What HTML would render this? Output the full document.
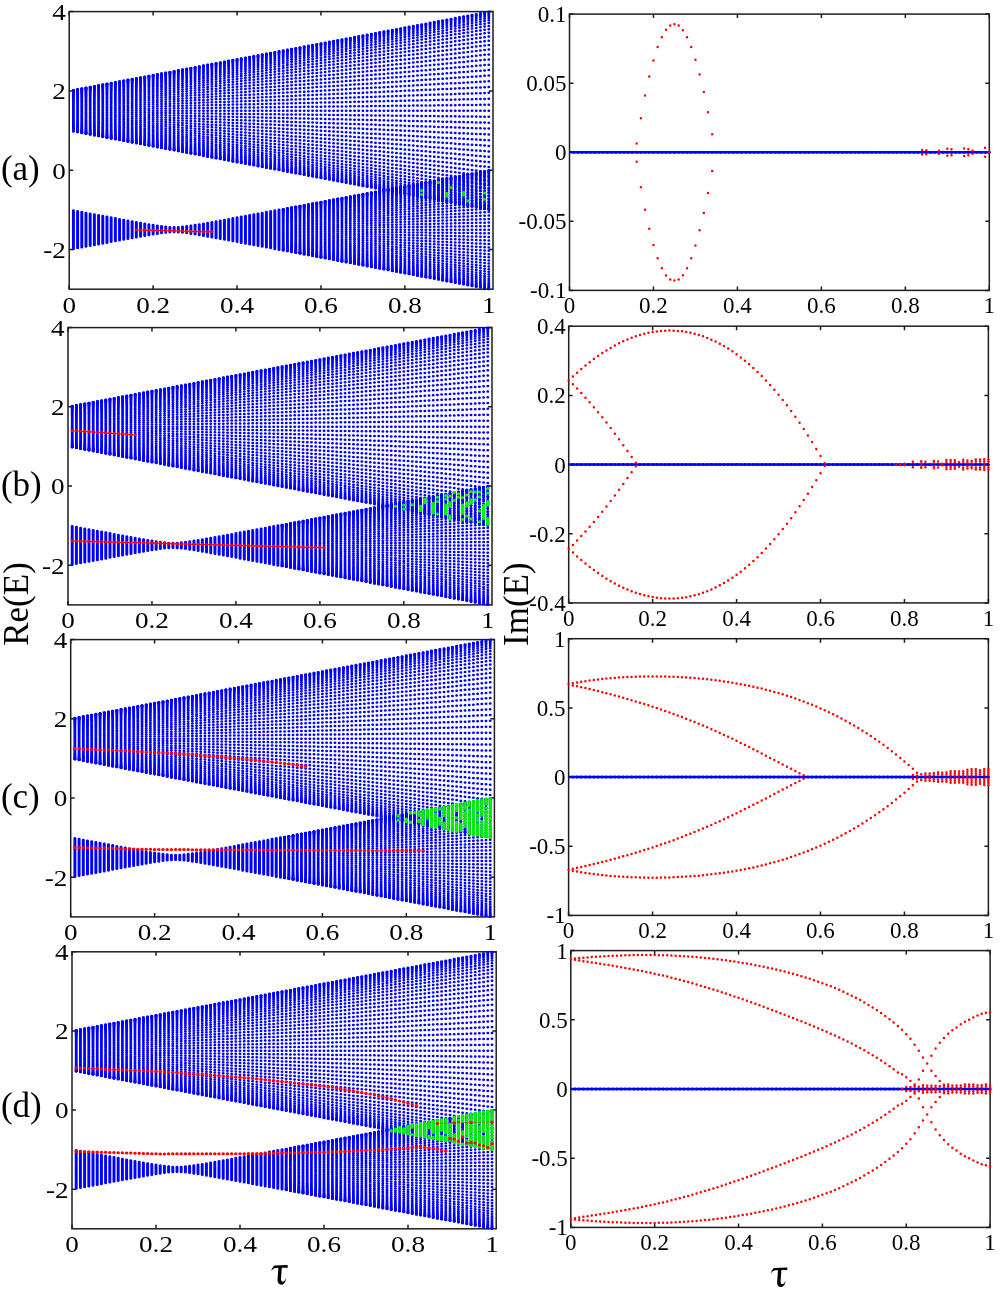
<!DOCTYPE html><html><head><meta charset="utf-8"><title>spectrum</title><style>html,body{margin:0;padding:0;background:#fff;overflow:hidden}svg{display:block;will-change:transform}text{font-family:"Liberation Serif",serif;fill:#000}</style></head><body>
<svg width="1004" height="1297" viewBox="0 0 1004 1297">
<rect x="69.2" y="11.6" width="423.8" height="277.6" fill="none" stroke="#1e1e1e" stroke-width="1.5"/><path d="M69.2 289.2v-4.0M69.2 11.6v4.0M153.12 289.2v-4.0M153.12 11.6v4.0M237.04 289.2v-4.0M237.04 11.6v4.0M320.96 289.2v-4.0M320.96 11.6v4.0M404.88 289.2v-4.0M404.88 11.6v4.0M488.8 289.2v-4.0M488.8 11.6v4.0M69.2 249.54h4.0M493 249.54h-4.0M69.2 170.23h4.0M493 170.23h-4.0M69.2 90.91h4.0M493 90.91h-4.0M69.2 11.6h4.0M493 11.6h-4.0" stroke="#1e1e1e" stroke-width="1.5" fill="none"/>
<rect x="68" y="327.6" width="424" height="277.3" fill="none" stroke="#1e1e1e" stroke-width="1.5"/><path d="M68 604.9v-4.0M68 327.6v4.0M151.96 604.9v-4.0M151.96 327.6v4.0M235.92 604.9v-4.0M235.92 327.6v4.0M319.88 604.9v-4.0M319.88 327.6v4.0M403.84 604.9v-4.0M403.84 327.6v4.0M487.8 604.9v-4.0M487.8 327.6v4.0M68 565.29h4.0M492 565.29h-4.0M68 486.06h4.0M492 486.06h-4.0M68 406.83h4.0M492 406.83h-4.0M68 327.6h4.0M492 327.6h-4.0" stroke="#1e1e1e" stroke-width="1.5" fill="none"/>
<rect x="70.7" y="639.6" width="423.7" height="277.3" fill="none" stroke="#1e1e1e" stroke-width="1.5"/><path d="M70.7 916.9v-4.0M70.7 639.6v4.0M154.6 916.9v-4.0M154.6 639.6v4.0M238.5 916.9v-4.0M238.5 639.6v4.0M322.4 916.9v-4.0M322.4 639.6v4.0M406.3 916.9v-4.0M406.3 639.6v4.0M490.2 916.9v-4.0M490.2 639.6v4.0M70.7 877.29h4.0M494.4 877.29h-4.0M70.7 798.06h4.0M494.4 798.06h-4.0M70.7 718.83h4.0M494.4 718.83h-4.0M70.7 639.6h4.0M494.4 639.6h-4.0" stroke="#1e1e1e" stroke-width="1.5" fill="none"/>
<rect x="72" y="951.8" width="424.2" height="277" fill="none" stroke="#1e1e1e" stroke-width="1.5"/><path d="M72 1228.8v-4.0M72 951.8v4.0M156 1228.8v-4.0M156 951.8v4.0M240 1228.8v-4.0M240 951.8v4.0M324 1228.8v-4.0M324 951.8v4.0M408 1228.8v-4.0M408 951.8v4.0M492 1228.8v-4.0M492 951.8v4.0M72 1189.23h4.0M496.2 1189.23h-4.0M72 1110.09h4.0M496.2 1110.09h-4.0M72 1030.94h4.0M496.2 1030.94h-4.0M72 951.8h4.0M496.2 951.8h-4.0" stroke="#1e1e1e" stroke-width="1.5" fill="none"/>
<rect x="569.5" y="14.1" width="419.8" height="276.3" fill="none" stroke="#1e1e1e" stroke-width="1.5"/><path d="M569.5 290.4v-4.0M569.5 14.1v4.0M653.46 290.4v-4.0M653.46 14.1v4.0M737.42 290.4v-4.0M737.42 14.1v4.0M821.38 290.4v-4.0M821.38 14.1v4.0M905.34 290.4v-4.0M905.34 14.1v4.0M989.3 290.4v-4.0M989.3 14.1v4.0M569.5 290.4h4.0M989.3 290.4h-4.0M569.5 221.32h4.0M989.3 221.32h-4.0M569.5 152.25h4.0M989.3 152.25h-4.0M569.5 83.17h4.0M989.3 83.17h-4.0M569.5 14.1h4.0M989.3 14.1h-4.0" stroke="#1e1e1e" stroke-width="1.5" fill="none"/>
<rect x="568.7" y="326.2" width="419.7" height="276.7" fill="none" stroke="#1e1e1e" stroke-width="1.5"/><path d="M568.7 602.9v-4.0M568.7 326.2v4.0M652.64 602.9v-4.0M652.64 326.2v4.0M736.58 602.9v-4.0M736.58 326.2v4.0M820.52 602.9v-4.0M820.52 326.2v4.0M904.46 602.9v-4.0M904.46 326.2v4.0M988.4 602.9v-4.0M988.4 326.2v4.0M568.7 602.9h4.0M988.4 602.9h-4.0M568.7 533.73h4.0M988.4 533.73h-4.0M568.7 464.55h4.0M988.4 464.55h-4.0M568.7 395.38h4.0M988.4 395.38h-4.0M568.7 326.2h4.0M988.4 326.2h-4.0" stroke="#1e1e1e" stroke-width="1.5" fill="none"/>
<rect x="568.6" y="638.7" width="419.8" height="276.7" fill="none" stroke="#1e1e1e" stroke-width="1.5"/><path d="M568.6 915.4v-4.0M568.6 638.7v4.0M652.56 915.4v-4.0M652.56 638.7v4.0M736.52 915.4v-4.0M736.52 638.7v4.0M820.48 915.4v-4.0M820.48 638.7v4.0M904.44 915.4v-4.0M904.44 638.7v4.0M988.4 915.4v-4.0M988.4 638.7v4.0M568.6 915.4h4.0M988.4 915.4h-4.0M568.6 846.23h4.0M988.4 846.23h-4.0M568.6 777.05h4.0M988.4 777.05h-4.0M568.6 707.88h4.0M988.4 707.88h-4.0M568.6 638.7h4.0M988.4 638.7h-4.0" stroke="#1e1e1e" stroke-width="1.5" fill="none"/>
<rect x="570.8" y="950.6" width="419.3" height="276.8" fill="none" stroke="#1e1e1e" stroke-width="1.5"/><path d="M570.8 1227.4v-4.0M570.8 950.6v4.0M654.66 1227.4v-4.0M654.66 950.6v4.0M738.52 1227.4v-4.0M738.52 950.6v4.0M822.38 1227.4v-4.0M822.38 950.6v4.0M906.24 1227.4v-4.0M906.24 950.6v4.0M990.1 1227.4v-4.0M990.1 950.6v4.0M570.8 1227.4h4.0M990.1 1227.4h-4.0M570.8 1158.2h4.0M990.1 1158.2h-4.0M570.8 1089h4.0M990.1 1089h-4.0M570.8 1019.8h4.0M990.1 1019.8h-4.0M570.8 950.6h4.0M990.1 950.6h-4.0" stroke="#1e1e1e" stroke-width="1.5" fill="none"/>
<g transform="translate(69.2 0) scale(1.18 1)" fill="none" stroke-linecap="round">
<g stroke="#0000ff" stroke-width="2.5">
<line x1="3.56" y1="90.16" x2="356.66" y2="11.54" stroke-dasharray="0 3.6430"/>
<line x1="3.56" y1="90.27" x2="356.66" y2="12.09" stroke-dasharray="0 3.6421"/>
<line x1="3.56" y1="90.46" x2="356.66" y2="12.99" stroke-dasharray="0 3.6405"/>
<line x1="3.56" y1="90.72" x2="356.66" y2="14.25" stroke-dasharray="0 3.6384"/>
<line x1="3.56" y1="91.05" x2="356.66" y2="15.86" stroke-dasharray="0 3.6357"/>
<line x1="3.56" y1="91.46" x2="356.66" y2="17.82" stroke-dasharray="0 3.6325"/>
<line x1="3.56" y1="91.94" x2="356.66" y2="20.12" stroke-dasharray="0 3.6288"/>
<line x1="3.56" y1="92.48" x2="356.66" y2="22.75" stroke-dasharray="0 3.6247"/>
<line x1="3.56" y1="93.10" x2="356.66" y2="25.69" stroke-dasharray="0 3.6202"/>
<line x1="3.56" y1="93.77" x2="356.66" y2="28.95" stroke-dasharray="0 3.6154"/>
<line x1="3.56" y1="94.51" x2="356.66" y2="32.51" stroke-dasharray="0 3.6104"/>
<line x1="3.56" y1="95.31" x2="356.66" y2="36.36" stroke-dasharray="0 3.6052"/>
<line x1="3.56" y1="96.16" x2="356.66" y2="40.47" stroke-dasharray="0 3.5999"/>
<line x1="3.56" y1="97.07" x2="356.66" y2="44.84" stroke-dasharray="0 3.5947"/>
<line x1="3.56" y1="98.03" x2="356.66" y2="49.45" stroke-dasharray="0 3.5895"/>
<line x1="3.56" y1="99.03" x2="356.66" y2="54.29" stroke-dasharray="0 3.5844"/>
<line x1="3.56" y1="100.07" x2="356.66" y2="59.33" stroke-dasharray="0 3.5796"/>
<line x1="3.56" y1="101.16" x2="356.66" y2="64.56" stroke-dasharray="0 3.5750"/>
<line x1="3.56" y1="102.28" x2="356.66" y2="69.96" stroke-dasharray="0 3.5708"/>
<line x1="3.56" y1="103.43" x2="356.66" y2="75.50" stroke-dasharray="0 3.5671"/>
<line x1="3.56" y1="104.61" x2="356.66" y2="81.18" stroke-dasharray="0 3.5638"/>
<line x1="3.56" y1="105.81" x2="356.66" y2="86.96" stroke-dasharray="0 3.5610"/>
<line x1="3.56" y1="107.03" x2="356.66" y2="92.83" stroke-dasharray="0 3.5588"/>
<line x1="3.56" y1="108.26" x2="356.66" y2="98.76" stroke-dasharray="0 3.5573"/>
<line x1="3.56" y1="109.50" x2="356.66" y2="104.74" stroke-dasharray="0 3.5563"/>
<line x1="3.56" y1="110.74" x2="356.66" y2="110.74" stroke-dasharray="0 3.5560"/>
<line x1="3.56" y1="111.99" x2="356.66" y2="116.74" stroke-dasharray="0 3.5563"/>
<line x1="3.56" y1="113.23" x2="356.66" y2="122.72" stroke-dasharray="0 3.5573"/>
<line x1="3.56" y1="114.46" x2="356.66" y2="128.66" stroke-dasharray="0 3.5588"/>
<line x1="3.56" y1="115.68" x2="356.66" y2="134.53" stroke-dasharray="0 3.5610"/>
<line x1="3.56" y1="116.88" x2="356.66" y2="140.31" stroke-dasharray="0 3.5638"/>
<line x1="3.56" y1="118.06" x2="356.66" y2="145.98" stroke-dasharray="0 3.5671"/>
<line x1="3.56" y1="119.21" x2="356.66" y2="151.53" stroke-dasharray="0 3.5708"/>
<line x1="3.56" y1="120.33" x2="356.66" y2="156.93" stroke-dasharray="0 3.5750"/>
<line x1="3.56" y1="121.41" x2="356.66" y2="162.16" stroke-dasharray="0 3.5796"/>
<line x1="3.56" y1="122.46" x2="356.66" y2="167.20" stroke-dasharray="0 3.5844"/>
<line x1="3.56" y1="123.46" x2="356.66" y2="172.03" stroke-dasharray="0 3.5895"/>
<line x1="3.56" y1="124.42" x2="356.66" y2="176.64" stroke-dasharray="0 3.5947"/>
<line x1="3.56" y1="125.32" x2="356.66" y2="181.02" stroke-dasharray="0 3.5999"/>
<line x1="3.56" y1="126.18" x2="356.66" y2="185.13" stroke-dasharray="0 3.6052"/>
<line x1="3.56" y1="126.98" x2="356.66" y2="188.97" stroke-dasharray="0 3.6104"/>
<line x1="3.56" y1="127.71" x2="356.66" y2="192.53" stroke-dasharray="0 3.6154"/>
<line x1="3.56" y1="128.39" x2="356.66" y2="195.79" stroke-dasharray="0 3.6202"/>
<line x1="3.56" y1="129.00" x2="356.66" y2="198.74" stroke-dasharray="0 3.6247"/>
<line x1="3.56" y1="129.55" x2="356.66" y2="201.37" stroke-dasharray="0 3.6288"/>
<line x1="3.56" y1="130.02" x2="356.66" y2="203.67" stroke-dasharray="0 3.6325"/>
<line x1="3.56" y1="130.43" x2="356.66" y2="205.62" stroke-dasharray="0 3.6357"/>
<line x1="3.56" y1="130.77" x2="356.66" y2="207.24" stroke-dasharray="0 3.6384"/>
<line x1="3.56" y1="131.03" x2="356.66" y2="208.50" stroke-dasharray="0 3.6405"/>
<line x1="3.56" y1="131.21" x2="356.66" y2="209.40" stroke-dasharray="0 3.6421"/>
<line x1="3.56" y1="131.33" x2="356.66" y2="209.94" stroke-dasharray="0 3.6430"/>
<line x1="181.35" y1="250.30" x2="356.66" y2="289.33" stroke-dasharray="0 3.6430"/>
<line x1="181.35" y1="250.19" x2="356.66" y2="289.00" stroke-dasharray="0 3.6421"/>
<line x1="181.35" y1="250.00" x2="356.66" y2="288.46" stroke-dasharray="0 3.6405"/>
<line x1="181.35" y1="249.74" x2="356.66" y2="287.70" stroke-dasharray="0 3.6384"/>
<line x1="181.35" y1="249.40" x2="356.66" y2="286.73" stroke-dasharray="0 3.6357"/>
<line x1="181.35" y1="249.00" x2="356.66" y2="285.56" stroke-dasharray="0 3.6325"/>
<line x1="181.35" y1="248.52" x2="356.66" y2="284.18" stroke-dasharray="0 3.6288"/>
<line x1="181.35" y1="247.97" x2="356.66" y2="282.60" stroke-dasharray="0 3.6247"/>
<line x1="181.35" y1="247.36" x2="356.66" y2="280.82" stroke-dasharray="0 3.6202"/>
<line x1="181.35" y1="246.69" x2="356.66" y2="278.87" stroke-dasharray="0 3.6154"/>
<line x1="181.35" y1="245.95" x2="356.66" y2="276.73" stroke-dasharray="0 3.6104"/>
<line x1="181.35" y1="245.15" x2="356.66" y2="274.42" stroke-dasharray="0 3.6052"/>
<line x1="181.35" y1="244.30" x2="356.66" y2="271.95" stroke-dasharray="0 3.5999"/>
<line x1="181.35" y1="243.39" x2="356.66" y2="269.32" stroke-dasharray="0 3.5947"/>
<line x1="181.35" y1="242.43" x2="356.66" y2="266.55" stroke-dasharray="0 3.5895"/>
<line x1="181.35" y1="241.43" x2="356.66" y2="263.64" stroke-dasharray="0 3.5844"/>
<line x1="181.35" y1="240.38" x2="356.66" y2="260.61" stroke-dasharray="0 3.5796"/>
<line x1="181.35" y1="239.30" x2="356.66" y2="257.47" stroke-dasharray="0 3.5750"/>
<line x1="181.35" y1="238.18" x2="356.66" y2="254.23" stroke-dasharray="0 3.5708"/>
<line x1="181.35" y1="237.03" x2="356.66" y2="250.89" stroke-dasharray="0 3.5671"/>
<line x1="181.35" y1="235.85" x2="356.66" y2="247.48" stroke-dasharray="0 3.5638"/>
<line x1="181.35" y1="234.65" x2="356.66" y2="244.01" stroke-dasharray="0 3.5610"/>
<line x1="181.35" y1="233.43" x2="356.66" y2="240.48" stroke-dasharray="0 3.5588"/>
<line x1="181.35" y1="232.20" x2="356.66" y2="236.91" stroke-dasharray="0 3.5573"/>
<line x1="181.35" y1="230.96" x2="356.66" y2="233.32" stroke-dasharray="0 3.5563"/>
<line x1="181.35" y1="229.71" x2="356.66" y2="229.71" stroke-dasharray="0 3.5560"/>
<line x1="181.35" y1="228.47" x2="356.66" y2="226.11" stroke-dasharray="0 3.5563"/>
<line x1="181.35" y1="227.23" x2="356.66" y2="222.52" stroke-dasharray="0 3.5573"/>
<line x1="181.35" y1="226.00" x2="356.66" y2="218.95" stroke-dasharray="0 3.5588"/>
<line x1="181.35" y1="224.78" x2="356.66" y2="215.42" stroke-dasharray="0 3.5610"/>
<line x1="181.35" y1="223.58" x2="356.66" y2="211.95" stroke-dasharray="0 3.5638"/>
<line x1="181.35" y1="222.40" x2="356.66" y2="208.54" stroke-dasharray="0 3.5671"/>
<line x1="181.35" y1="221.25" x2="356.66" y2="205.20" stroke-dasharray="0 3.5708"/>
<line x1="181.35" y1="220.13" x2="356.66" y2="201.96" stroke-dasharray="0 3.5750"/>
<line x1="181.35" y1="219.05" x2="356.66" y2="198.82" stroke-dasharray="0 3.5796"/>
<line x1="181.35" y1="218.00" x2="356.66" y2="195.79" stroke-dasharray="0 3.5844"/>
<line x1="181.35" y1="217.00" x2="356.66" y2="192.88" stroke-dasharray="0 3.5895"/>
<line x1="181.35" y1="216.04" x2="356.66" y2="190.11" stroke-dasharray="0 3.5947"/>
<line x1="181.35" y1="215.13" x2="356.66" y2="187.48" stroke-dasharray="0 3.5999"/>
<line x1="181.35" y1="214.28" x2="356.66" y2="185.01" stroke-dasharray="0 3.6052"/>
<line x1="181.35" y1="213.48" x2="356.66" y2="182.70" stroke-dasharray="0 3.6104"/>
<line x1="181.35" y1="212.74" x2="356.66" y2="180.56" stroke-dasharray="0 3.6154"/>
<line x1="181.35" y1="212.07" x2="356.66" y2="178.60" stroke-dasharray="0 3.6202"/>
<line x1="181.35" y1="211.45" x2="356.66" y2="176.83" stroke-dasharray="0 3.6247"/>
<line x1="181.35" y1="210.91" x2="356.66" y2="175.25" stroke-dasharray="0 3.6288"/>
<line x1="181.35" y1="210.43" x2="356.66" y2="173.87" stroke-dasharray="0 3.6325"/>
<line x1="181.35" y1="210.03" x2="356.66" y2="172.69" stroke-dasharray="0 3.6357"/>
<line x1="181.35" y1="209.69" x2="356.66" y2="171.73" stroke-dasharray="0 3.6384"/>
<line x1="181.35" y1="209.43" x2="356.66" y2="170.97" stroke-dasharray="0 3.6405"/>
<line x1="181.35" y1="209.24" x2="356.66" y2="170.43" stroke-dasharray="0 3.6421"/>
<line x1="181.35" y1="209.13" x2="356.66" y2="170.10" stroke-dasharray="0 3.6430"/>
<path d="M3.56 210.53V248.90M7.11 211.32V248.11M10.67 212.10V247.32M14.22 212.89V246.54M17.78 213.67V245.75M21.34 214.46V244.97M24.89 215.24V244.19M28.45 216.02V243.41M32.00 216.80V242.63M35.56 217.58V241.85M39.12 218.36V241.07M42.67 219.13V240.30M46.23 219.90V239.52M49.78 220.67V238.76M53.34 221.43V237.99M56.90 222.19V237.24M60.45 222.94V236.49M64.01 223.67V235.75M67.56 224.39V235.03M71.12 225.09V234.34M74.68 225.75V233.68M78.23 226.35V233.08M81.79 226.85V232.57M85.34 227.21V232.22M88.90 227.33V232.09M92.46 227.21V232.22M96.01 226.85V232.57M99.57 226.35V233.08M103.12 225.75V233.68M106.68 225.09V234.34M110.23 224.39V235.03M113.79 223.67V235.75M117.35 222.94V236.49M120.90 222.19V237.24M124.46 221.43V237.99M128.01 220.67V238.76M131.57 219.90V239.52M135.13 219.13V240.30M138.68 218.36V241.07M142.24 217.58V241.85M145.79 216.80V242.63M149.35 216.02V243.41M152.91 215.24V244.19M156.46 214.46V244.97M160.02 213.67V245.75M163.57 212.89V246.54M167.13 212.10V247.32M170.69 211.32V248.11M174.24 210.53V248.90M177.80 209.74V249.69"/>
</g>
<path stroke="#00f000" stroke-width="3.0" d="M298.70 190.40h0M298.70 194.40h0M312.92 182.40h0M320.04 193.40h0M320.04 196.20h0M323.59 187.40h0M334.26 192.40h0M334.26 194.90h0M337.82 200.80h0M352.04 192.90h0M352.04 199.30h0"/>
<path stroke="#ff0000" stroke-width="1.0" d="M56.90 230.00L60.45 230.11L64.01 230.21L67.56 230.31L71.12 230.42L74.68 230.52L78.23 230.62L81.79 230.73L85.34 230.83L88.90 230.94L92.46 231.04L96.01 231.14L99.57 231.25L103.12 231.35L106.68 231.45L110.23 231.56L113.79 231.66L117.35 231.76L120.90 231.87"/>
<path stroke="#ff0000" stroke-width="2.8" d="M56.90 230.00h0M60.45 230.11h0M64.01 230.21h0M67.56 230.31h0M71.12 230.42h0M74.68 230.52h0M78.23 230.62h0M81.79 230.73h0M85.34 230.83h0M88.90 230.94h0M92.46 231.04h0M96.01 231.14h0M99.57 231.25h0M103.12 231.35h0M106.68 231.45h0M110.23 231.56h0M113.79 231.66h0M117.35 231.76h0M120.90 231.87h0"/>
</g>
<g transform="translate(68 0) scale(1.18 1)" fill="none" stroke-linecap="round">
<g stroke="#0000ff" stroke-width="2.5">
<line x1="3.56" y1="406.07" x2="356.83" y2="327.54" stroke-dasharray="0 3.6445"/>
<line x1="3.56" y1="406.19" x2="356.83" y2="328.09" stroke-dasharray="0 3.6435"/>
<line x1="3.56" y1="406.37" x2="356.83" y2="328.99" stroke-dasharray="0 3.6420"/>
<line x1="3.56" y1="406.63" x2="356.83" y2="330.25" stroke-dasharray="0 3.6399"/>
<line x1="3.56" y1="406.97" x2="356.83" y2="331.86" stroke-dasharray="0 3.6372"/>
<line x1="3.56" y1="407.37" x2="356.83" y2="333.81" stroke-dasharray="0 3.6340"/>
<line x1="3.56" y1="407.85" x2="356.83" y2="336.11" stroke-dasharray="0 3.6303"/>
<line x1="3.56" y1="408.40" x2="356.83" y2="338.73" stroke-dasharray="0 3.6262"/>
<line x1="3.56" y1="409.01" x2="356.83" y2="341.68" stroke-dasharray="0 3.6217"/>
<line x1="3.56" y1="409.68" x2="356.83" y2="344.94" stroke-dasharray="0 3.6169"/>
<line x1="3.56" y1="410.42" x2="356.83" y2="348.49" stroke-dasharray="0 3.6119"/>
<line x1="3.56" y1="411.22" x2="356.83" y2="352.33" stroke-dasharray="0 3.6067"/>
<line x1="3.56" y1="412.07" x2="356.83" y2="356.44" stroke-dasharray="0 3.6015"/>
<line x1="3.56" y1="412.98" x2="356.83" y2="360.81" stroke-dasharray="0 3.5962"/>
<line x1="3.56" y1="413.93" x2="356.83" y2="365.41" stroke-dasharray="0 3.5910"/>
<line x1="3.56" y1="414.93" x2="356.83" y2="370.24" stroke-dasharray="0 3.5860"/>
<line x1="3.56" y1="415.98" x2="356.83" y2="375.28" stroke-dasharray="0 3.5812"/>
<line x1="3.56" y1="417.06" x2="356.83" y2="380.50" stroke-dasharray="0 3.5766"/>
<line x1="3.56" y1="418.18" x2="356.83" y2="385.89" stroke-dasharray="0 3.5725"/>
<line x1="3.56" y1="419.33" x2="356.83" y2="391.43" stroke-dasharray="0 3.5687"/>
<line x1="3.56" y1="420.51" x2="356.83" y2="397.10" stroke-dasharray="0 3.5654"/>
<line x1="3.56" y1="421.71" x2="356.83" y2="402.88" stroke-dasharray="0 3.5627"/>
<line x1="3.56" y1="422.92" x2="356.83" y2="408.74" stroke-dasharray="0 3.5605"/>
<line x1="3.56" y1="424.15" x2="356.83" y2="414.67" stroke-dasharray="0 3.5589"/>
<line x1="3.56" y1="425.39" x2="356.83" y2="420.64" stroke-dasharray="0 3.5580"/>
<line x1="3.56" y1="426.64" x2="356.83" y2="426.64" stroke-dasharray="0 3.5576"/>
<line x1="3.56" y1="427.88" x2="356.83" y2="432.63" stroke-dasharray="0 3.5580"/>
<line x1="3.56" y1="429.12" x2="356.83" y2="438.60" stroke-dasharray="0 3.5589"/>
<line x1="3.56" y1="430.35" x2="356.83" y2="444.53" stroke-dasharray="0 3.5605"/>
<line x1="3.56" y1="431.57" x2="356.83" y2="450.39" stroke-dasharray="0 3.5627"/>
<line x1="3.56" y1="432.76" x2="356.83" y2="456.17" stroke-dasharray="0 3.5654"/>
<line x1="3.56" y1="433.94" x2="356.83" y2="461.84" stroke-dasharray="0 3.5687"/>
<line x1="3.56" y1="435.09" x2="356.83" y2="467.38" stroke-dasharray="0 3.5725"/>
<line x1="3.56" y1="436.21" x2="356.83" y2="472.77" stroke-dasharray="0 3.5766"/>
<line x1="3.56" y1="437.29" x2="356.83" y2="477.99" stroke-dasharray="0 3.5812"/>
<line x1="3.56" y1="438.34" x2="356.83" y2="483.03" stroke-dasharray="0 3.5860"/>
<line x1="3.56" y1="439.34" x2="356.83" y2="487.86" stroke-dasharray="0 3.5910"/>
<line x1="3.56" y1="440.30" x2="356.83" y2="492.47" stroke-dasharray="0 3.5962"/>
<line x1="3.56" y1="441.20" x2="356.83" y2="496.83" stroke-dasharray="0 3.6015"/>
<line x1="3.56" y1="442.05" x2="356.83" y2="500.94" stroke-dasharray="0 3.6067"/>
<line x1="3.56" y1="442.85" x2="356.83" y2="504.78" stroke-dasharray="0 3.6119"/>
<line x1="3.56" y1="443.59" x2="356.83" y2="508.34" stroke-dasharray="0 3.6169"/>
<line x1="3.56" y1="444.26" x2="356.83" y2="511.59" stroke-dasharray="0 3.6217"/>
<line x1="3.56" y1="444.88" x2="356.83" y2="514.54" stroke-dasharray="0 3.6262"/>
<line x1="3.56" y1="445.42" x2="356.83" y2="517.16" stroke-dasharray="0 3.6303"/>
<line x1="3.56" y1="445.90" x2="356.83" y2="519.46" stroke-dasharray="0 3.6340"/>
<line x1="3.56" y1="446.30" x2="356.83" y2="521.41" stroke-dasharray="0 3.6372"/>
<line x1="3.56" y1="446.64" x2="356.83" y2="523.02" stroke-dasharray="0 3.6399"/>
<line x1="3.56" y1="446.90" x2="356.83" y2="524.28" stroke-dasharray="0 3.6420"/>
<line x1="3.56" y1="447.08" x2="356.83" y2="525.19" stroke-dasharray="0 3.6435"/>
<line x1="3.56" y1="447.20" x2="356.83" y2="525.73" stroke-dasharray="0 3.6445"/>
<line x1="181.44" y1="566.04" x2="356.83" y2="605.03" stroke-dasharray="0 3.6445"/>
<line x1="181.44" y1="565.93" x2="356.83" y2="604.70" stroke-dasharray="0 3.6435"/>
<line x1="181.44" y1="565.74" x2="356.83" y2="604.16" stroke-dasharray="0 3.6420"/>
<line x1="181.44" y1="565.48" x2="356.83" y2="603.40" stroke-dasharray="0 3.6399"/>
<line x1="181.44" y1="565.15" x2="356.83" y2="602.44" stroke-dasharray="0 3.6372"/>
<line x1="181.44" y1="564.74" x2="356.83" y2="601.26" stroke-dasharray="0 3.6340"/>
<line x1="181.44" y1="564.26" x2="356.83" y2="599.88" stroke-dasharray="0 3.6303"/>
<line x1="181.44" y1="563.72" x2="356.83" y2="598.30" stroke-dasharray="0 3.6262"/>
<line x1="181.44" y1="563.11" x2="356.83" y2="596.53" stroke-dasharray="0 3.6217"/>
<line x1="181.44" y1="562.43" x2="356.83" y2="594.58" stroke-dasharray="0 3.6169"/>
<line x1="181.44" y1="561.69" x2="356.83" y2="592.44" stroke-dasharray="0 3.6119"/>
<line x1="181.44" y1="560.90" x2="356.83" y2="590.13" stroke-dasharray="0 3.6067"/>
<line x1="181.44" y1="560.04" x2="356.83" y2="587.66" stroke-dasharray="0 3.6015"/>
<line x1="181.44" y1="559.14" x2="356.83" y2="585.04" stroke-dasharray="0 3.5962"/>
<line x1="181.44" y1="558.18" x2="356.83" y2="582.27" stroke-dasharray="0 3.5910"/>
<line x1="181.44" y1="557.18" x2="356.83" y2="579.37" stroke-dasharray="0 3.5860"/>
<line x1="181.44" y1="556.14" x2="356.83" y2="576.34" stroke-dasharray="0 3.5812"/>
<line x1="181.44" y1="555.05" x2="356.83" y2="573.20" stroke-dasharray="0 3.5766"/>
<line x1="181.44" y1="553.93" x2="356.83" y2="569.96" stroke-dasharray="0 3.5725"/>
<line x1="181.44" y1="552.78" x2="356.83" y2="566.63" stroke-dasharray="0 3.5687"/>
<line x1="181.44" y1="551.61" x2="356.83" y2="563.23" stroke-dasharray="0 3.5654"/>
<line x1="181.44" y1="550.41" x2="356.83" y2="559.76" stroke-dasharray="0 3.5627"/>
<line x1="181.44" y1="549.19" x2="356.83" y2="556.23" stroke-dasharray="0 3.5605"/>
<line x1="181.44" y1="547.96" x2="356.83" y2="552.67" stroke-dasharray="0 3.5589"/>
<line x1="181.44" y1="546.72" x2="356.83" y2="549.08" stroke-dasharray="0 3.5580"/>
<line x1="181.44" y1="545.48" x2="356.83" y2="545.48" stroke-dasharray="0 3.5576"/>
<line x1="181.44" y1="544.23" x2="356.83" y2="541.88" stroke-dasharray="0 3.5580"/>
<line x1="181.44" y1="543.00" x2="356.83" y2="538.29" stroke-dasharray="0 3.5589"/>
<line x1="181.44" y1="541.77" x2="356.83" y2="534.72" stroke-dasharray="0 3.5605"/>
<line x1="181.44" y1="540.55" x2="356.83" y2="531.20" stroke-dasharray="0 3.5627"/>
<line x1="181.44" y1="539.35" x2="356.83" y2="527.73" stroke-dasharray="0 3.5654"/>
<line x1="181.44" y1="538.17" x2="356.83" y2="524.32" stroke-dasharray="0 3.5687"/>
<line x1="181.44" y1="537.02" x2="356.83" y2="520.99" stroke-dasharray="0 3.5725"/>
<line x1="181.44" y1="535.91" x2="356.83" y2="517.75" stroke-dasharray="0 3.5766"/>
<line x1="181.44" y1="534.82" x2="356.83" y2="514.61" stroke-dasharray="0 3.5812"/>
<line x1="181.44" y1="533.78" x2="356.83" y2="511.59" stroke-dasharray="0 3.5860"/>
<line x1="181.44" y1="532.77" x2="356.83" y2="508.69" stroke-dasharray="0 3.5910"/>
<line x1="181.44" y1="531.82" x2="356.83" y2="505.92" stroke-dasharray="0 3.5962"/>
<line x1="181.44" y1="530.91" x2="356.83" y2="503.29" stroke-dasharray="0 3.6015"/>
<line x1="181.44" y1="530.06" x2="356.83" y2="500.82" stroke-dasharray="0 3.6067"/>
<line x1="181.44" y1="529.26" x2="356.83" y2="498.52" stroke-dasharray="0 3.6119"/>
<line x1="181.44" y1="528.53" x2="356.83" y2="496.38" stroke-dasharray="0 3.6169"/>
<line x1="181.44" y1="527.85" x2="356.83" y2="494.42" stroke-dasharray="0 3.6217"/>
<line x1="181.44" y1="527.24" x2="356.83" y2="492.65" stroke-dasharray="0 3.6262"/>
<line x1="181.44" y1="526.69" x2="356.83" y2="491.08" stroke-dasharray="0 3.6303"/>
<line x1="181.44" y1="526.22" x2="356.83" y2="489.70" stroke-dasharray="0 3.6340"/>
<line x1="181.44" y1="525.81" x2="356.83" y2="488.52" stroke-dasharray="0 3.6372"/>
<line x1="181.44" y1="525.48" x2="356.83" y2="487.55" stroke-dasharray="0 3.6399"/>
<line x1="181.44" y1="525.22" x2="356.83" y2="486.80" stroke-dasharray="0 3.6420"/>
<line x1="181.44" y1="525.03" x2="356.83" y2="486.25" stroke-dasharray="0 3.6435"/>
<line x1="181.44" y1="524.92" x2="356.83" y2="485.93" stroke-dasharray="0 3.6445"/>
<path d="M3.56 526.32V564.64M7.12 527.10V563.86M10.67 527.89V563.07M14.23 528.67V562.29M17.79 529.46V561.50M21.35 530.24V560.72M24.90 531.02V559.94M28.46 531.80V559.16M32.02 532.58V558.38M35.58 533.36V557.60M39.13 534.13V556.82M42.69 534.91V556.05M46.25 535.68V555.28M49.81 536.45V554.51M53.36 537.21V553.75M56.92 537.96V552.99M60.48 538.71V552.25M64.04 539.44V551.51M67.60 540.16V550.79M71.15 540.86V550.10M74.71 541.52V549.44M78.27 542.12V548.84M81.83 542.62V548.34M85.38 542.97V547.98M88.94 543.10V547.86M92.50 542.97V547.98M96.06 542.62V548.34M99.61 542.12V548.84M103.17 541.52V549.44M106.73 540.86V550.10M110.29 540.16V550.79M113.84 539.44V551.51M117.40 538.71V552.25M120.96 537.96V552.99M124.52 537.21V553.75M128.08 536.45V554.51M131.63 535.68V555.28M135.19 534.91V556.05M138.75 534.13V556.82M142.31 533.36V557.60M145.86 532.58V558.38M149.42 531.80V559.16M152.98 531.02V559.94M156.54 530.24V560.72M160.09 529.46V561.50M163.65 528.67V562.29M167.21 527.89V563.07M170.77 527.10V563.86M174.32 526.32V564.64M177.88 525.53V565.43"/>
</g>
<path stroke="#00f000" stroke-width="3.0" d="M277.50 506.30V506.30M284.61 505.10V505.10M284.61 509.00V509.00M291.73 504.80V504.80M298.84 506.30V510.50M302.40 499.10V502.70M309.52 503.30V512.90M313.07 497.30V497.30M313.07 501.50V501.50M313.07 514.10V514.10M320.19 495.50V495.50M320.19 499.10V499.10M320.19 505.10V514.10M323.75 496.10V496.10M323.75 502.70V506.30M323.75 515.90V518.90M327.30 492.60V492.60M327.30 500.30V500.30M330.86 493.70V493.70M330.86 497.30V497.30M334.42 497.60V497.60M334.42 505.10V513.50M334.42 519.50V519.50M337.98 494.90V494.90M337.98 502.70V506.30M337.98 515.90V515.90M341.53 491.40V491.40M341.53 499.70V503.30M341.53 518.90V518.90M345.09 492.00V492.00M345.09 499.70V499.70M348.65 492.00V492.00M348.65 496.70V496.70M348.65 511.10V511.10M348.65 521.80V521.80M352.21 505.10V518.30M355.76 488.40V488.40M355.76 493.10V493.10M355.76 501.50V505.10M355.76 518.30V524.20"/>
<path stroke="#ff0000" stroke-width="1.0" d="M3.56 430.65L7.12 430.93L10.67 431.20L14.23 431.48L17.79 431.76L21.35 432.04L24.90 432.32L28.46 432.60L32.02 432.88L35.58 433.16L39.13 433.44L42.69 433.72L46.25 433.99L49.81 434.27L53.36 434.55L56.92 434.83M3.56 541.01L7.12 541.12L10.67 541.23L14.23 541.34L17.79 541.46L21.35 541.57L24.90 541.68L28.46 541.79L32.02 541.90L35.58 542.01L39.13 542.13L42.69 542.24L46.25 542.35L49.81 542.46L53.36 542.57L56.92 542.69L60.48 542.80L64.04 542.91L67.60 543.02L71.15 543.13L74.71 543.25L78.27 543.36L81.83 543.47L85.38 543.58L88.94 543.69L92.50 543.80L96.06 543.92L99.61 544.03L103.17 544.14L106.73 544.25L110.29 544.36L113.84 544.47L117.40 544.59L120.96 544.70L124.52 544.81L128.08 544.92L131.63 545.03L135.19 545.14L138.75 545.25L142.31 545.36L145.86 545.47L149.42 545.58L152.98 545.69L156.54 545.80L160.09 545.92L163.65 546.03L167.21 546.14L170.77 546.25L174.32 546.36L177.88 546.47L181.44 546.58L185.00 546.69L188.56 546.80L192.11 546.91L195.67 547.02L199.23 547.13L202.79 547.25L206.34 547.36L209.90 547.47L213.46 547.58L217.02 547.69"/>
<path stroke="#ff0000" stroke-width="2.8" d="M3.56 430.65h0M7.12 430.93h0M10.67 431.20h0M14.23 431.48h0M17.79 431.76h0M21.35 432.04h0M24.90 432.32h0M28.46 432.60h0M32.02 432.88h0M35.58 433.16h0M39.13 433.44h0M42.69 433.72h0M46.25 433.99h0M49.81 434.27h0M53.36 434.55h0M56.92 434.83h0M3.56 541.01h0M7.12 541.12h0M10.67 541.23h0M14.23 541.34h0M17.79 541.46h0M21.35 541.57h0M24.90 541.68h0M28.46 541.79h0M32.02 541.90h0M35.58 542.01h0M39.13 542.13h0M42.69 542.24h0M46.25 542.35h0M49.81 542.46h0M53.36 542.57h0M56.92 542.69h0M60.48 542.80h0M64.04 542.91h0M67.60 543.02h0M71.15 543.13h0M74.71 543.25h0M78.27 543.36h0M81.83 543.47h0M85.38 543.58h0M88.94 543.69h0M92.50 543.80h0M96.06 543.92h0M99.61 544.03h0M103.17 544.14h0M106.73 544.25h0M110.29 544.36h0M113.84 544.47h0M117.40 544.59h0M120.96 544.70h0M124.52 544.81h0M128.08 544.92h0M131.63 545.03h0M135.19 545.14h0M138.75 545.25h0M142.31 545.36h0M145.86 545.47h0M149.42 545.58h0M152.98 545.69h0M156.54 545.80h0M160.09 545.92h0M163.65 546.03h0M167.21 546.14h0M170.77 546.25h0M174.32 546.36h0M177.88 546.47h0M181.44 546.58h0M185.00 546.69h0M188.56 546.80h0M192.11 546.91h0M195.67 547.02h0M199.23 547.13h0M202.79 547.25h0M206.34 547.36h0M209.90 547.47h0M213.46 547.58h0M217.02 547.69h0"/>
</g>
<g transform="translate(70.7 0) scale(1.18 1)" fill="none" stroke-linecap="round">
<g stroke="#0000ff" stroke-width="2.5">
<line x1="3.56" y1="718.07" x2="356.58" y2="639.54" stroke-dasharray="0 3.6420"/>
<line x1="3.56" y1="718.19" x2="356.58" y2="640.09" stroke-dasharray="0 3.6411"/>
<line x1="3.56" y1="718.37" x2="356.58" y2="640.99" stroke-dasharray="0 3.6395"/>
<line x1="3.56" y1="718.63" x2="356.58" y2="642.25" stroke-dasharray="0 3.6374"/>
<line x1="3.56" y1="718.97" x2="356.58" y2="643.86" stroke-dasharray="0 3.6347"/>
<line x1="3.56" y1="719.37" x2="356.58" y2="645.81" stroke-dasharray="0 3.6315"/>
<line x1="3.56" y1="719.85" x2="356.58" y2="648.11" stroke-dasharray="0 3.6278"/>
<line x1="3.56" y1="720.40" x2="356.58" y2="650.73" stroke-dasharray="0 3.6237"/>
<line x1="3.56" y1="721.01" x2="356.58" y2="653.68" stroke-dasharray="0 3.6192"/>
<line x1="3.56" y1="721.68" x2="356.58" y2="656.94" stroke-dasharray="0 3.6144"/>
<line x1="3.56" y1="722.42" x2="356.58" y2="660.49" stroke-dasharray="0 3.6094"/>
<line x1="3.56" y1="723.22" x2="356.58" y2="664.33" stroke-dasharray="0 3.6042"/>
<line x1="3.56" y1="724.07" x2="356.58" y2="668.44" stroke-dasharray="0 3.5990"/>
<line x1="3.56" y1="724.98" x2="356.58" y2="672.81" stroke-dasharray="0 3.5937"/>
<line x1="3.56" y1="725.93" x2="356.58" y2="677.41" stroke-dasharray="0 3.5885"/>
<line x1="3.56" y1="726.93" x2="356.58" y2="682.24" stroke-dasharray="0 3.5835"/>
<line x1="3.56" y1="727.98" x2="356.58" y2="687.28" stroke-dasharray="0 3.5787"/>
<line x1="3.56" y1="729.06" x2="356.58" y2="692.50" stroke-dasharray="0 3.5741"/>
<line x1="3.56" y1="730.18" x2="356.58" y2="697.89" stroke-dasharray="0 3.5700"/>
<line x1="3.56" y1="731.33" x2="356.58" y2="703.43" stroke-dasharray="0 3.5662"/>
<line x1="3.56" y1="732.51" x2="356.58" y2="709.10" stroke-dasharray="0 3.5629"/>
<line x1="3.56" y1="733.71" x2="356.58" y2="714.88" stroke-dasharray="0 3.5602"/>
<line x1="3.56" y1="734.92" x2="356.58" y2="720.74" stroke-dasharray="0 3.5580"/>
<line x1="3.56" y1="736.15" x2="356.58" y2="726.67" stroke-dasharray="0 3.5564"/>
<line x1="3.56" y1="737.39" x2="356.58" y2="732.64" stroke-dasharray="0 3.5554"/>
<line x1="3.56" y1="738.64" x2="356.58" y2="738.64" stroke-dasharray="0 3.5551"/>
<line x1="3.56" y1="739.88" x2="356.58" y2="744.63" stroke-dasharray="0 3.5554"/>
<line x1="3.56" y1="741.12" x2="356.58" y2="750.60" stroke-dasharray="0 3.5564"/>
<line x1="3.56" y1="742.35" x2="356.58" y2="756.53" stroke-dasharray="0 3.5580"/>
<line x1="3.56" y1="743.57" x2="356.58" y2="762.39" stroke-dasharray="0 3.5602"/>
<line x1="3.56" y1="744.76" x2="356.58" y2="768.17" stroke-dasharray="0 3.5629"/>
<line x1="3.56" y1="745.94" x2="356.58" y2="773.84" stroke-dasharray="0 3.5662"/>
<line x1="3.56" y1="747.09" x2="356.58" y2="779.38" stroke-dasharray="0 3.5700"/>
<line x1="3.56" y1="748.21" x2="356.58" y2="784.77" stroke-dasharray="0 3.5741"/>
<line x1="3.56" y1="749.29" x2="356.58" y2="789.99" stroke-dasharray="0 3.5787"/>
<line x1="3.56" y1="750.34" x2="356.58" y2="795.03" stroke-dasharray="0 3.5835"/>
<line x1="3.56" y1="751.34" x2="356.58" y2="799.86" stroke-dasharray="0 3.5885"/>
<line x1="3.56" y1="752.30" x2="356.58" y2="804.47" stroke-dasharray="0 3.5937"/>
<line x1="3.56" y1="753.20" x2="356.58" y2="808.83" stroke-dasharray="0 3.5990"/>
<line x1="3.56" y1="754.05" x2="356.58" y2="812.94" stroke-dasharray="0 3.6042"/>
<line x1="3.56" y1="754.85" x2="356.58" y2="816.78" stroke-dasharray="0 3.6094"/>
<line x1="3.56" y1="755.59" x2="356.58" y2="820.34" stroke-dasharray="0 3.6144"/>
<line x1="3.56" y1="756.26" x2="356.58" y2="823.59" stroke-dasharray="0 3.6192"/>
<line x1="3.56" y1="756.88" x2="356.58" y2="826.54" stroke-dasharray="0 3.6237"/>
<line x1="3.56" y1="757.42" x2="356.58" y2="829.16" stroke-dasharray="0 3.6278"/>
<line x1="3.56" y1="757.90" x2="356.58" y2="831.46" stroke-dasharray="0 3.6315"/>
<line x1="3.56" y1="758.30" x2="356.58" y2="833.41" stroke-dasharray="0 3.6347"/>
<line x1="3.56" y1="758.64" x2="356.58" y2="835.02" stroke-dasharray="0 3.6374"/>
<line x1="3.56" y1="758.90" x2="356.58" y2="836.28" stroke-dasharray="0 3.6395"/>
<line x1="3.56" y1="759.08" x2="356.58" y2="837.19" stroke-dasharray="0 3.6411"/>
<line x1="3.56" y1="759.20" x2="356.58" y2="837.73" stroke-dasharray="0 3.6420"/>
<line x1="181.31" y1="878.04" x2="356.58" y2="917.03" stroke-dasharray="0 3.6420"/>
<line x1="181.31" y1="877.93" x2="356.58" y2="916.70" stroke-dasharray="0 3.6411"/>
<line x1="181.31" y1="877.74" x2="356.58" y2="916.16" stroke-dasharray="0 3.6395"/>
<line x1="181.31" y1="877.48" x2="356.58" y2="915.40" stroke-dasharray="0 3.6374"/>
<line x1="181.31" y1="877.15" x2="356.58" y2="914.44" stroke-dasharray="0 3.6347"/>
<line x1="181.31" y1="876.74" x2="356.58" y2="913.26" stroke-dasharray="0 3.6315"/>
<line x1="181.31" y1="876.26" x2="356.58" y2="911.88" stroke-dasharray="0 3.6278"/>
<line x1="181.31" y1="875.72" x2="356.58" y2="910.30" stroke-dasharray="0 3.6237"/>
<line x1="181.31" y1="875.11" x2="356.58" y2="908.53" stroke-dasharray="0 3.6192"/>
<line x1="181.31" y1="874.43" x2="356.58" y2="906.58" stroke-dasharray="0 3.6144"/>
<line x1="181.31" y1="873.69" x2="356.58" y2="904.44" stroke-dasharray="0 3.6094"/>
<line x1="181.31" y1="872.90" x2="356.58" y2="902.13" stroke-dasharray="0 3.6042"/>
<line x1="181.31" y1="872.04" x2="356.58" y2="899.66" stroke-dasharray="0 3.5990"/>
<line x1="181.31" y1="871.14" x2="356.58" y2="897.04" stroke-dasharray="0 3.5937"/>
<line x1="181.31" y1="870.18" x2="356.58" y2="894.27" stroke-dasharray="0 3.5885"/>
<line x1="181.31" y1="869.18" x2="356.58" y2="891.37" stroke-dasharray="0 3.5835"/>
<line x1="181.31" y1="868.14" x2="356.58" y2="888.34" stroke-dasharray="0 3.5787"/>
<line x1="181.31" y1="867.05" x2="356.58" y2="885.20" stroke-dasharray="0 3.5741"/>
<line x1="181.31" y1="865.93" x2="356.58" y2="881.96" stroke-dasharray="0 3.5700"/>
<line x1="181.31" y1="864.78" x2="356.58" y2="878.63" stroke-dasharray="0 3.5662"/>
<line x1="181.31" y1="863.61" x2="356.58" y2="875.23" stroke-dasharray="0 3.5629"/>
<line x1="181.31" y1="862.41" x2="356.58" y2="871.76" stroke-dasharray="0 3.5602"/>
<line x1="181.31" y1="861.19" x2="356.58" y2="868.23" stroke-dasharray="0 3.5580"/>
<line x1="181.31" y1="859.96" x2="356.58" y2="864.67" stroke-dasharray="0 3.5564"/>
<line x1="181.31" y1="858.72" x2="356.58" y2="861.08" stroke-dasharray="0 3.5554"/>
<line x1="181.31" y1="857.48" x2="356.58" y2="857.48" stroke-dasharray="0 3.5551"/>
<line x1="181.31" y1="856.23" x2="356.58" y2="853.88" stroke-dasharray="0 3.5554"/>
<line x1="181.31" y1="855.00" x2="356.58" y2="850.29" stroke-dasharray="0 3.5564"/>
<line x1="181.31" y1="853.77" x2="356.58" y2="846.72" stroke-dasharray="0 3.5580"/>
<line x1="181.31" y1="852.55" x2="356.58" y2="843.20" stroke-dasharray="0 3.5602"/>
<line x1="181.31" y1="851.35" x2="356.58" y2="839.73" stroke-dasharray="0 3.5629"/>
<line x1="181.31" y1="850.17" x2="356.58" y2="836.32" stroke-dasharray="0 3.5662"/>
<line x1="181.31" y1="849.02" x2="356.58" y2="832.99" stroke-dasharray="0 3.5700"/>
<line x1="181.31" y1="847.91" x2="356.58" y2="829.75" stroke-dasharray="0 3.5741"/>
<line x1="181.31" y1="846.82" x2="356.58" y2="826.61" stroke-dasharray="0 3.5787"/>
<line x1="181.31" y1="845.78" x2="356.58" y2="823.59" stroke-dasharray="0 3.5835"/>
<line x1="181.31" y1="844.77" x2="356.58" y2="820.69" stroke-dasharray="0 3.5885"/>
<line x1="181.31" y1="843.82" x2="356.58" y2="817.92" stroke-dasharray="0 3.5937"/>
<line x1="181.31" y1="842.91" x2="356.58" y2="815.29" stroke-dasharray="0 3.5990"/>
<line x1="181.31" y1="842.06" x2="356.58" y2="812.82" stroke-dasharray="0 3.6042"/>
<line x1="181.31" y1="841.26" x2="356.58" y2="810.52" stroke-dasharray="0 3.6094"/>
<line x1="181.31" y1="840.53" x2="356.58" y2="808.38" stroke-dasharray="0 3.6144"/>
<line x1="181.31" y1="839.85" x2="356.58" y2="806.42" stroke-dasharray="0 3.6192"/>
<line x1="181.31" y1="839.24" x2="356.58" y2="804.65" stroke-dasharray="0 3.6237"/>
<line x1="181.31" y1="838.69" x2="356.58" y2="803.08" stroke-dasharray="0 3.6278"/>
<line x1="181.31" y1="838.22" x2="356.58" y2="801.70" stroke-dasharray="0 3.6315"/>
<line x1="181.31" y1="837.81" x2="356.58" y2="800.52" stroke-dasharray="0 3.6347"/>
<line x1="181.31" y1="837.48" x2="356.58" y2="799.55" stroke-dasharray="0 3.6374"/>
<line x1="181.31" y1="837.22" x2="356.58" y2="798.80" stroke-dasharray="0 3.6395"/>
<line x1="181.31" y1="837.03" x2="356.58" y2="798.25" stroke-dasharray="0 3.6411"/>
<line x1="181.31" y1="836.92" x2="356.58" y2="797.93" stroke-dasharray="0 3.6420"/>
<path d="M3.56 838.32V876.64M7.11 839.10V875.86M10.67 839.89V875.07M14.22 840.67V874.29M17.78 841.46V873.50M21.33 842.24V872.72M24.89 843.02V871.94M28.44 843.80V871.16M32.00 844.58V870.38M35.55 845.36V869.60M39.11 846.13V868.82M42.66 846.91V868.05M46.22 847.68V867.28M49.77 848.45V866.51M53.33 849.21V865.75M56.88 849.96V864.99M60.44 850.71V864.25M63.99 851.44V863.51M67.55 852.16V862.79M71.10 852.86V862.10M74.66 853.52V861.44M78.21 854.12V860.84M81.77 854.62V860.34M85.32 854.97V859.98M88.88 855.10V859.86M92.43 854.97V859.98M95.99 854.62V860.34M99.54 854.12V860.84M103.10 853.52V861.44M106.65 852.86V862.10M110.21 852.16V862.79M113.76 851.44V863.51M117.32 850.71V864.25M120.87 849.96V864.99M124.43 849.21V865.75M127.98 848.45V866.51M131.54 847.68V867.28M135.09 846.91V868.05M138.65 846.13V868.82M142.21 845.36V869.60M145.76 844.58V870.38M149.32 843.80V871.16M152.87 843.02V871.94M156.43 842.24V872.72M159.98 841.46V873.50M163.54 840.67V874.29M167.09 839.89V875.07M170.65 839.10V875.86M174.20 838.32V876.64M177.76 837.53V877.43"/>
</g>
<path stroke="#00f000" stroke-width="3.0" d="M351.96 836.70h0M351.96 836.69h0M351.96 836.16h0M351.96 834.02h0M351.96 833.42h0M351.96 832.43h0M351.96 830.49h0M351.96 830.23h0M351.96 828.22h0M351.96 827.15h0M351.96 825.63h0M351.96 824.17h0M351.96 822.71h0M351.96 821.32h0M351.96 819.49h0M351.96 818.60h0M351.96 816.02h0M351.96 815.97h0M351.96 813.59h0M351.96 812.17h0M351.96 811.33h0M351.96 808.10h0M351.96 804.01h0M351.96 803.78h0M351.96 802.66h0M351.96 801.50h0M351.96 800.55h0M351.96 799.81h0M351.96 799.28h0M351.96 799.22h0M351.96 798.96h0M355.51 837.49h0M355.51 836.95h0M355.51 836.41h0M355.51 836.05h0M355.51 834.79h0M355.51 833.19h0M355.51 833.09h0M355.51 831.24h0M355.51 829.86h0M355.51 828.95h0M355.51 826.74h0M355.51 826.33h0M355.51 823.72h0M355.51 823.39h0M355.51 820.14h0M355.51 818.07h0M355.51 815.46h0M355.51 813.00h0M355.51 812.77h0M355.51 810.70h0M355.51 808.66h0M355.51 808.58h0M355.51 806.63h0M355.51 804.86h0M355.51 804.31h0M355.51 803.29h0M355.51 801.92h0M355.51 800.75h0M355.51 799.78h0M355.51 799.71h0M355.51 799.03h0M355.51 798.49h0M355.51 798.17h0M337.74 833.54h0M337.74 833.02h0M337.74 832.15h0M337.74 831.71h0M337.74 830.95h0M337.74 829.41h0M337.74 827.53h0M337.74 825.97h0M337.74 825.33h0M337.74 823.28h0M337.74 820.70h0M337.74 820.00h0M337.74 818.26h0M337.74 816.88h0M337.74 815.97h0M337.74 813.82h0M337.74 813.48h0M337.74 811.84h0M337.74 810.02h0M337.74 809.80h0M337.74 805.86h0M337.74 805.62h0M337.74 804.53h0M337.74 802.42h0M337.74 802.12h0M341.29 834.39h0M341.29 834.33h0M341.29 833.80h0M341.29 832.93h0M341.29 831.72h0M341.29 831.34h0M341.29 830.16h0M341.29 828.38h0M341.29 828.27h0M341.29 826.06h0M341.29 825.52h0M341.29 823.52h0M341.29 822.79h0M341.29 820.68h0M341.29 820.18h0M341.29 817.70h0M341.29 817.53h0M341.29 815.37h0M341.29 814.10h0M341.29 813.20h0M341.29 811.18h0M341.29 810.39h0M341.29 809.34h0M341.29 807.67h0M341.29 806.42h0M341.29 806.18h0M341.29 804.88h0M341.29 803.77h0M341.29 802.86h0M341.29 802.21h0M341.29 802.15h0M341.29 801.64h0M341.29 801.33h0M344.85 835.12h0M344.85 834.59h0M344.85 834.07h0M344.85 833.71h0M344.85 832.49h0M344.85 830.97h0M344.85 830.92h0M344.85 829.01h0M344.85 827.97h0M344.85 826.78h0M344.85 825.07h0M344.85 824.22h0M344.85 821.35h0M344.85 819.65h0M344.85 817.14h0M344.85 814.72h0M344.85 810.99h0M344.85 810.53h0M344.85 808.66h0M344.85 806.98h0M344.85 806.97h0M344.85 805.46h0M344.85 804.14h0M344.85 803.02h0M344.85 802.73h0M344.85 802.09h0M344.85 801.37h0M344.85 800.85h0M344.85 800.54h0M348.40 835.91h0M348.40 834.49h0M348.40 833.74h0M348.40 833.26h0M348.40 831.67h0M348.40 830.60h0M348.40 829.75h0M348.40 827.56h0M348.40 827.50h0M348.40 824.92h0M348.40 824.62h0M348.40 822.03h0M348.40 815.35h0M348.40 814.19h0M348.40 811.95h0M348.40 811.58h0M348.40 809.88h0M348.40 807.98h0M348.40 807.54h0M348.40 806.27h0M348.40 804.74h0M348.40 803.40h0M348.40 803.26h0M348.40 802.26h0M348.40 801.32h0M348.40 800.59h0M348.40 800.06h0M348.40 799.75h0M327.07 831.16h0M327.07 830.66h0M327.07 830.02h0M327.07 829.81h0M327.07 828.64h0M327.07 827.32h0M327.07 827.14h0M327.07 825.31h0M327.07 824.74h0M327.07 823.17h0M327.07 822.28h0M327.07 817.96h0M327.07 817.75h0M327.07 810.48h0M327.07 809.07h0M327.07 808.02h0M327.07 807.84h0M327.07 806.80h0M327.07 805.94h0M327.07 805.26h0M327.07 804.78h0M327.07 804.49h0M327.07 804.18h0M330.63 830.59h0M330.63 829.61h0M330.63 829.41h0M330.63 827.89h0M330.63 826.87h0M330.63 826.05h0M330.63 824.25h0M330.63 823.89h0M330.63 818.64h0M330.63 817.15h0M330.63 815.58h0M330.63 815.07h0M330.63 813.14h0M330.63 812.23h0M330.63 811.37h0M330.63 809.77h0M330.63 808.61h0M330.63 808.35h0M330.63 807.10h0M330.63 806.04h0M330.63 805.17h0M330.63 804.74h0M330.63 804.49h0M330.63 804.00h0M330.63 803.70h0M334.18 826.42h0M334.18 823.76h0M334.18 822.12h0M334.18 821.23h0M334.18 819.32h0M334.18 818.82h0M334.18 816.56h0M334.18 816.23h0M334.18 814.45h0M334.18 812.85h0M334.18 812.49h0M334.18 809.21h0M334.18 809.07h0M334.18 807.63h0M334.18 806.36h0M334.18 805.30h0M334.18 805.29h0M334.18 803.71h0M334.18 803.21h0M334.18 802.91h0M319.96 829.58h0M319.96 829.08h0M319.96 828.26h0M319.96 825.62h0M319.96 823.33h0M319.96 821.72h0M319.96 821.06h0M319.96 819.31h0M319.96 816.61h0M319.96 815.10h0M319.96 813.62h0M319.96 813.41h0M319.96 811.88h0M319.96 810.52h0M319.96 810.36h0M319.96 807.48h0M319.96 806.83h0M319.96 806.82h0M323.52 830.43h0M323.52 830.37h0M323.52 827.77h0M323.52 826.38h0M323.52 825.23h0M323.52 824.57h0M323.52 822.80h0M323.52 822.44h0M323.52 820.50h0M323.52 820.01h0M323.52 818.34h0M323.52 817.29h0M323.52 816.32h0M323.52 814.44h0M323.52 814.27h0M323.52 812.73h0M323.52 811.18h0M323.52 810.98h0M323.52 809.79h0M323.52 807.56h0M323.52 807.43h0M323.52 806.71h0M323.52 806.04h0M323.52 805.57h0M323.52 805.28h0M309.30 827.21h0M309.30 827.18h0M309.30 826.72h0M309.30 825.92h0M309.30 824.90h0M309.30 824.79h0M309.30 823.35h0M309.30 822.74h0M309.30 821.61h0M309.30 820.71h0M309.30 819.55h0M309.30 818.81h0M309.30 817.21h0M309.30 817.05h0M309.30 815.44h0M309.30 814.57h0M309.30 813.98h0M309.30 810.58h0M309.30 809.78h0M309.30 809.16h0M309.30 808.72h0M309.30 808.49h0M309.30 808.45h0M312.85 824.11h0M312.85 822.35h0M312.85 822.18h0M312.85 820.28h0M312.85 820.12h0M312.85 818.19h0M312.85 809.01h0M312.85 808.38h0M316.41 828.79h0M316.41 828.67h0M316.41 828.30h0M316.41 827.48h0M316.41 826.33h0M316.41 826.21h0M316.41 824.87h0M316.41 823.85h0M316.41 823.09h0M316.41 815.75h0M316.41 814.09h0M316.41 812.97h0M316.41 812.58h0M316.41 811.24h0M316.41 810.07h0M316.41 809.73h0M316.41 809.07h0M316.41 807.14h0M316.41 806.86h0M302.19 818.36h0M302.19 815.80h0M302.19 815.39h0M302.19 814.13h0M302.19 813.03h0M302.19 812.09h0M302.19 811.32h0M302.19 810.72h0M302.19 810.36h0M302.19 810.29h0M302.19 810.03h0M305.74 826.42h0M305.74 825.94h0M305.74 825.43h0M305.74 825.14h0M305.74 824.02h0M305.74 823.30h0M305.74 822.60h0M305.74 821.30h0M305.74 820.86h0M305.74 819.43h0M305.74 818.83h0M305.74 817.70h0M305.74 816.51h0M305.74 816.12h0M305.74 814.68h0M305.74 813.90h0M305.74 813.41h0M305.74 812.29h0M305.74 811.34h0M305.74 809.50h0M305.74 809.24h0M295.08 821.72h0M295.08 821.31h0M295.08 820.33h0M295.08 815.57h0M295.08 814.51h0M295.08 814.40h0M295.08 813.61h0M295.08 812.86h0M295.08 812.28h0M295.08 811.86h0M298.63 824.84h0M298.63 824.42h0M298.63 824.37h0M298.63 823.58h0M298.63 822.49h0M298.63 822.49h0M298.63 821.08h0M298.63 819.38h0M298.63 819.01h0M298.63 817.48h0M298.63 817.39h0M298.63 816.09h0M298.63 815.10h0M298.63 814.85h0M298.63 813.77h0M298.63 812.85h0M298.63 812.54h0M298.63 812.09h0M298.63 811.50h0M298.63 811.07h0M298.63 810.82h0M287.97 822.55h0M287.97 822.46h0M287.97 822.01h0M287.97 813.19h0M287.97 813.00h0M291.52 812.65h0M291.52 812.40h0M284.41 821.67h0M284.41 821.62h0M284.41 821.22h0M284.41 820.46h0M284.41 820.19h0M284.41 819.41h0M284.41 818.89h0M277.30 820.30h0M277.30 816.18h0M277.30 815.79h0M277.30 815.56h0"/>
<path stroke="#ff0000" stroke-width="3.0" d="M3.56 748.60h0M7.11 748.78h0M10.67 748.97h0M14.22 749.15h0M17.78 749.34h0M21.33 749.52h0M24.89 749.71h0M28.44 749.89h0M32.00 750.08h0M35.55 750.26h0M39.11 750.45h0M42.66 750.63h0M46.22 750.82h0M49.77 751.05h0M53.33 751.27h0M56.88 751.50h0M60.44 751.73h0M63.99 751.95h0M67.55 752.18h0M71.10 752.40h0M74.66 752.63h0M78.21 752.85h0M81.77 753.08h0M85.32 753.31h0M88.88 753.53h0M92.43 753.76h0M95.99 753.98h0M99.54 754.21h0M103.10 754.57h0M106.65 754.92h0M110.21 755.27h0M113.76 755.63h0M117.32 755.98h0M120.87 756.33h0M124.43 756.68h0M127.98 757.04h0M131.54 757.39h0M135.09 757.74h0M138.65 758.10h0M142.21 758.45h0M145.76 758.80h0M149.32 759.16h0M152.87 759.56h0M156.43 760.06h0M159.98 760.57h0M163.54 761.08h0M167.09 761.58h0M170.65 762.09h0M174.20 762.60h0M177.76 763.10h0M181.31 763.61h0M184.87 764.12h0M188.42 764.62h0M191.98 765.13h0M195.53 765.64h0M199.09 766.14h0M3.56 847.43h0M7.11 847.55h0M10.67 847.67h0M14.22 847.79h0M17.78 847.91h0M21.33 848.03h0M24.89 848.16h0M28.44 848.28h0M32.00 848.40h0M35.55 848.52h0M39.11 848.64h0M42.66 848.76h0M46.22 848.88h0M49.77 849.00h0M53.33 849.12h0M56.88 849.25h0M60.44 849.32h0M63.99 849.34h0M67.55 849.37h0M71.10 849.40h0M74.66 849.43h0M78.21 849.46h0M81.77 849.48h0M85.32 849.51h0M88.88 849.54h0M92.43 849.57h0M95.99 849.60h0M99.54 849.62h0M103.10 849.65h0M106.65 849.68h0M110.21 849.71h0M113.76 849.74h0M117.32 849.76h0M120.87 849.79h0M124.43 849.82h0M127.98 849.85h0M131.54 849.88h0M135.09 849.91h0M138.65 849.93h0M142.21 849.96h0M145.76 849.99h0M149.32 850.02h0M152.87 850.05h0M156.43 850.07h0M159.98 850.10h0M163.54 850.12h0M167.09 850.14h0M170.65 850.16h0M174.20 850.18h0M177.76 850.20h0M181.31 850.22h0M184.87 850.24h0M188.42 850.26h0M191.98 850.28h0M195.53 850.30h0M199.09 850.32h0M202.64 850.35h0M206.20 850.37h0M209.75 850.39h0M213.31 850.41h0M216.86 850.43h0M220.42 850.45h0M223.97 850.47h0M227.53 850.49h0M231.08 850.51h0M234.64 850.53h0M238.19 850.55h0M241.75 850.57h0M245.30 850.59h0M248.86 850.61h0M252.41 850.63h0M255.97 850.65h0M259.52 850.67h0M263.08 850.69h0M266.63 850.71h0M270.19 850.73h0M273.74 850.75h0M277.30 850.77h0M280.86 850.79h0M284.41 850.81h0M287.97 850.83h0M291.52 850.85h0M295.08 850.87h0M298.63 850.89h0"/>
</g>
<g transform="translate(72 0) scale(1.18 1)" fill="none" stroke-linecap="round">
<g stroke="#0000ff" stroke-width="2.5">
<line x1="3.56" y1="1030.19" x2="357.00" y2="951.74" stroke-dasharray="0 3.6459"/>
<line x1="3.56" y1="1030.30" x2="357.00" y2="952.29" stroke-dasharray="0 3.6450"/>
<line x1="3.56" y1="1030.49" x2="357.00" y2="953.19" stroke-dasharray="0 3.6435"/>
<line x1="3.56" y1="1030.75" x2="357.00" y2="954.44" stroke-dasharray="0 3.6413"/>
<line x1="3.56" y1="1031.08" x2="357.00" y2="956.05" stroke-dasharray="0 3.6386"/>
<line x1="3.56" y1="1031.49" x2="357.00" y2="958.01" stroke-dasharray="0 3.6354"/>
<line x1="3.56" y1="1031.96" x2="357.00" y2="960.30" stroke-dasharray="0 3.6318"/>
<line x1="3.56" y1="1032.51" x2="357.00" y2="962.92" stroke-dasharray="0 3.6277"/>
<line x1="3.56" y1="1033.12" x2="357.00" y2="965.86" stroke-dasharray="0 3.6232"/>
<line x1="3.56" y1="1033.79" x2="357.00" y2="969.12" stroke-dasharray="0 3.6184"/>
<line x1="3.56" y1="1034.53" x2="357.00" y2="972.67" stroke-dasharray="0 3.6134"/>
<line x1="3.56" y1="1035.33" x2="357.00" y2="976.50" stroke-dasharray="0 3.6083"/>
<line x1="3.56" y1="1036.18" x2="357.00" y2="980.61" stroke-dasharray="0 3.6030"/>
<line x1="3.56" y1="1037.08" x2="357.00" y2="984.97" stroke-dasharray="0 3.5978"/>
<line x1="3.56" y1="1038.04" x2="357.00" y2="989.57" stroke-dasharray="0 3.5926"/>
<line x1="3.56" y1="1039.04" x2="357.00" y2="994.40" stroke-dasharray="0 3.5876"/>
<line x1="3.56" y1="1040.08" x2="357.00" y2="999.43" stroke-dasharray="0 3.5828"/>
<line x1="3.56" y1="1041.17" x2="357.00" y2="1004.64" stroke-dasharray="0 3.5783"/>
<line x1="3.56" y1="1042.28" x2="357.00" y2="1010.03" stroke-dasharray="0 3.5741"/>
<line x1="3.56" y1="1043.43" x2="357.00" y2="1015.56" stroke-dasharray="0 3.5704"/>
<line x1="3.56" y1="1044.61" x2="357.00" y2="1021.23" stroke-dasharray="0 3.5671"/>
<line x1="3.56" y1="1045.80" x2="357.00" y2="1027.00" stroke-dasharray="0 3.5644"/>
<line x1="3.56" y1="1047.02" x2="357.00" y2="1032.85" stroke-dasharray="0 3.5622"/>
<line x1="3.56" y1="1048.25" x2="357.00" y2="1038.78" stroke-dasharray="0 3.5606"/>
<line x1="3.56" y1="1049.49" x2="357.00" y2="1044.74" stroke-dasharray="0 3.5596"/>
<line x1="3.56" y1="1050.73" x2="357.00" y2="1050.73" stroke-dasharray="0 3.5593"/>
<line x1="3.56" y1="1051.97" x2="357.00" y2="1056.72" stroke-dasharray="0 3.5596"/>
<line x1="3.56" y1="1053.21" x2="357.00" y2="1062.68" stroke-dasharray="0 3.5606"/>
<line x1="3.56" y1="1054.44" x2="357.00" y2="1068.60" stroke-dasharray="0 3.5622"/>
<line x1="3.56" y1="1055.65" x2="357.00" y2="1074.46" stroke-dasharray="0 3.5644"/>
<line x1="3.56" y1="1056.85" x2="357.00" y2="1080.23" stroke-dasharray="0 3.5671"/>
<line x1="3.56" y1="1058.03" x2="357.00" y2="1085.89" stroke-dasharray="0 3.5704"/>
<line x1="3.56" y1="1059.17" x2="357.00" y2="1091.43" stroke-dasharray="0 3.5741"/>
<line x1="3.56" y1="1060.29" x2="357.00" y2="1096.81" stroke-dasharray="0 3.5783"/>
<line x1="3.56" y1="1061.37" x2="357.00" y2="1102.03" stroke-dasharray="0 3.5828"/>
<line x1="3.56" y1="1062.42" x2="357.00" y2="1107.06" stroke-dasharray="0 3.5876"/>
<line x1="3.56" y1="1063.42" x2="357.00" y2="1111.89" stroke-dasharray="0 3.5926"/>
<line x1="3.56" y1="1064.37" x2="357.00" y2="1116.49" stroke-dasharray="0 3.5978"/>
<line x1="3.56" y1="1065.28" x2="357.00" y2="1120.85" stroke-dasharray="0 3.6030"/>
<line x1="3.56" y1="1066.13" x2="357.00" y2="1124.96" stroke-dasharray="0 3.6083"/>
<line x1="3.56" y1="1066.93" x2="357.00" y2="1128.79" stroke-dasharray="0 3.6134"/>
<line x1="3.56" y1="1067.66" x2="357.00" y2="1132.34" stroke-dasharray="0 3.6184"/>
<line x1="3.56" y1="1068.34" x2="357.00" y2="1135.59" stroke-dasharray="0 3.6232"/>
<line x1="3.56" y1="1068.95" x2="357.00" y2="1138.54" stroke-dasharray="0 3.6277"/>
<line x1="3.56" y1="1069.49" x2="357.00" y2="1141.16" stroke-dasharray="0 3.6318"/>
<line x1="3.56" y1="1069.97" x2="357.00" y2="1143.45" stroke-dasharray="0 3.6354"/>
<line x1="3.56" y1="1070.37" x2="357.00" y2="1145.40" stroke-dasharray="0 3.6386"/>
<line x1="3.56" y1="1070.71" x2="357.00" y2="1147.01" stroke-dasharray="0 3.6413"/>
<line x1="3.56" y1="1070.97" x2="357.00" y2="1148.27" stroke-dasharray="0 3.6435"/>
<line x1="3.56" y1="1071.16" x2="357.00" y2="1149.17" stroke-dasharray="0 3.6450"/>
<line x1="3.56" y1="1071.27" x2="357.00" y2="1149.71" stroke-dasharray="0 3.6459"/>
<line x1="181.53" y1="1189.98" x2="357.00" y2="1228.93" stroke-dasharray="0 3.6459"/>
<line x1="181.53" y1="1189.87" x2="357.00" y2="1228.60" stroke-dasharray="0 3.6450"/>
<line x1="181.53" y1="1189.68" x2="357.00" y2="1228.06" stroke-dasharray="0 3.6435"/>
<line x1="181.53" y1="1189.42" x2="357.00" y2="1227.31" stroke-dasharray="0 3.6413"/>
<line x1="181.53" y1="1189.09" x2="357.00" y2="1226.34" stroke-dasharray="0 3.6386"/>
<line x1="181.53" y1="1188.68" x2="357.00" y2="1225.16" stroke-dasharray="0 3.6354"/>
<line x1="181.53" y1="1188.21" x2="357.00" y2="1223.79" stroke-dasharray="0 3.6318"/>
<line x1="181.53" y1="1187.66" x2="357.00" y2="1222.21" stroke-dasharray="0 3.6277"/>
<line x1="181.53" y1="1187.05" x2="357.00" y2="1220.44" stroke-dasharray="0 3.6232"/>
<line x1="181.53" y1="1186.38" x2="357.00" y2="1218.49" stroke-dasharray="0 3.6184"/>
<line x1="181.53" y1="1185.64" x2="357.00" y2="1216.35" stroke-dasharray="0 3.6134"/>
<line x1="181.53" y1="1184.85" x2="357.00" y2="1214.05" stroke-dasharray="0 3.6083"/>
<line x1="181.53" y1="1183.99" x2="357.00" y2="1211.58" stroke-dasharray="0 3.6030"/>
<line x1="181.53" y1="1183.09" x2="357.00" y2="1208.96" stroke-dasharray="0 3.5978"/>
<line x1="181.53" y1="1182.13" x2="357.00" y2="1206.20" stroke-dasharray="0 3.5926"/>
<line x1="181.53" y1="1181.13" x2="357.00" y2="1203.30" stroke-dasharray="0 3.5876"/>
<line x1="181.53" y1="1180.09" x2="357.00" y2="1200.27" stroke-dasharray="0 3.5828"/>
<line x1="181.53" y1="1179.01" x2="357.00" y2="1197.14" stroke-dasharray="0 3.5783"/>
<line x1="181.53" y1="1177.89" x2="357.00" y2="1193.90" stroke-dasharray="0 3.5741"/>
<line x1="181.53" y1="1176.74" x2="357.00" y2="1190.58" stroke-dasharray="0 3.5704"/>
<line x1="181.53" y1="1175.56" x2="357.00" y2="1187.17" stroke-dasharray="0 3.5671"/>
<line x1="181.53" y1="1174.37" x2="357.00" y2="1183.70" stroke-dasharray="0 3.5644"/>
<line x1="181.53" y1="1173.15" x2="357.00" y2="1180.19" stroke-dasharray="0 3.5622"/>
<line x1="181.53" y1="1171.92" x2="357.00" y2="1176.63" stroke-dasharray="0 3.5606"/>
<line x1="181.53" y1="1170.69" x2="357.00" y2="1173.04" stroke-dasharray="0 3.5596"/>
<line x1="181.53" y1="1169.44" x2="357.00" y2="1169.44" stroke-dasharray="0 3.5593"/>
<line x1="181.53" y1="1168.20" x2="357.00" y2="1165.84" stroke-dasharray="0 3.5596"/>
<line x1="181.53" y1="1166.96" x2="357.00" y2="1162.26" stroke-dasharray="0 3.5606"/>
<line x1="181.53" y1="1165.73" x2="357.00" y2="1158.70" stroke-dasharray="0 3.5622"/>
<line x1="181.53" y1="1164.52" x2="357.00" y2="1155.18" stroke-dasharray="0 3.5644"/>
<line x1="181.53" y1="1163.32" x2="357.00" y2="1151.71" stroke-dasharray="0 3.5671"/>
<line x1="181.53" y1="1162.15" x2="357.00" y2="1148.31" stroke-dasharray="0 3.5704"/>
<line x1="181.53" y1="1161.00" x2="357.00" y2="1144.98" stroke-dasharray="0 3.5741"/>
<line x1="181.53" y1="1159.88" x2="357.00" y2="1141.75" stroke-dasharray="0 3.5783"/>
<line x1="181.53" y1="1158.80" x2="357.00" y2="1138.61" stroke-dasharray="0 3.5828"/>
<line x1="181.53" y1="1157.75" x2="357.00" y2="1135.59" stroke-dasharray="0 3.5876"/>
<line x1="181.53" y1="1156.75" x2="357.00" y2="1132.69" stroke-dasharray="0 3.5926"/>
<line x1="181.53" y1="1155.80" x2="357.00" y2="1129.92" stroke-dasharray="0 3.5978"/>
<line x1="181.53" y1="1154.89" x2="357.00" y2="1127.30" stroke-dasharray="0 3.6030"/>
<line x1="181.53" y1="1154.04" x2="357.00" y2="1124.84" stroke-dasharray="0 3.6083"/>
<line x1="181.53" y1="1153.24" x2="357.00" y2="1122.53" stroke-dasharray="0 3.6134"/>
<line x1="181.53" y1="1152.51" x2="357.00" y2="1120.40" stroke-dasharray="0 3.6184"/>
<line x1="181.53" y1="1151.83" x2="357.00" y2="1118.44" stroke-dasharray="0 3.6232"/>
<line x1="181.53" y1="1151.22" x2="357.00" y2="1116.67" stroke-dasharray="0 3.6277"/>
<line x1="181.53" y1="1150.68" x2="357.00" y2="1115.10" stroke-dasharray="0 3.6318"/>
<line x1="181.53" y1="1150.20" x2="357.00" y2="1113.72" stroke-dasharray="0 3.6354"/>
<line x1="181.53" y1="1149.80" x2="357.00" y2="1112.55" stroke-dasharray="0 3.6386"/>
<line x1="181.53" y1="1149.46" x2="357.00" y2="1111.58" stroke-dasharray="0 3.6413"/>
<line x1="181.53" y1="1149.20" x2="357.00" y2="1110.82" stroke-dasharray="0 3.6435"/>
<line x1="181.53" y1="1149.02" x2="357.00" y2="1110.28" stroke-dasharray="0 3.6450"/>
<line x1="181.53" y1="1148.90" x2="357.00" y2="1109.96" stroke-dasharray="0 3.6459"/>
<path d="M3.56 1150.30V1188.58M7.12 1151.09V1187.80M10.68 1151.87V1187.02M14.24 1152.65V1186.23M17.80 1153.44V1185.45M21.36 1154.22V1184.67M24.92 1155.00V1183.89M28.47 1155.78V1183.11M32.03 1156.56V1182.33M35.59 1157.34V1181.55M39.15 1158.11V1180.77M42.71 1158.88V1180.00M46.27 1159.65V1179.23M49.83 1160.42V1178.47M53.39 1161.18V1177.71M56.95 1161.93V1176.95M60.51 1162.68V1176.20M64.07 1163.42V1175.47M67.63 1164.13V1174.75M71.19 1164.83V1174.06M74.75 1165.49V1173.40M78.31 1166.09V1172.80M81.86 1166.59V1172.30M85.42 1166.94V1171.95M88.98 1167.07V1171.82M92.54 1166.94V1171.95M96.10 1166.59V1172.30M99.66 1166.09V1172.80M103.22 1165.49V1173.40M106.78 1164.83V1174.06M110.34 1164.13V1174.75M113.90 1163.42V1175.47M117.46 1162.68V1176.20M121.02 1161.93V1176.95M124.58 1161.18V1177.71M128.14 1160.42V1178.47M131.69 1159.65V1179.23M135.25 1158.88V1180.00M138.81 1158.11V1180.77M142.37 1157.34V1181.55M145.93 1156.56V1182.33M149.49 1155.78V1183.11M153.05 1155.00V1183.89M156.61 1154.22V1184.67M160.17 1153.44V1185.45M163.73 1152.65V1186.23M167.29 1151.87V1187.02M170.85 1151.09V1187.80M174.41 1150.30V1188.58M177.97 1149.52V1189.37"/>
</g>
<path stroke="#00f000" stroke-width="3.0" d="M352.37 1148.69h0M352.37 1148.68h0M352.37 1148.15h0M352.37 1146.01h0M352.37 1144.42h0M352.37 1142.23h0M352.37 1140.22h0M352.37 1139.14h0M352.37 1137.62h0M352.37 1136.17h0M352.37 1134.71h0M352.37 1133.32h0M352.37 1131.49h0M352.37 1130.61h0M352.37 1128.03h0M352.37 1127.98h0M352.37 1125.61h0M352.37 1124.19h0M352.37 1123.34h0M352.37 1121.24h0M352.37 1120.12h0M352.37 1119.32h0M352.37 1117.59h0M352.37 1116.04h0M352.37 1115.81h0M352.37 1114.68h0M352.37 1113.53h0M352.37 1111.84h0M352.37 1111.30h0M352.37 1111.25h0M352.37 1110.98h0M355.93 1149.48h0M355.93 1148.94h0M355.93 1148.39h0M355.93 1148.04h0M355.93 1146.78h0M355.93 1145.18h0M355.93 1145.08h0M355.93 1143.23h0M355.93 1141.86h0M355.93 1138.33h0M355.93 1135.72h0M355.93 1135.39h0M355.93 1132.84h0M355.93 1132.15h0M355.93 1130.08h0M355.93 1128.60h0M355.93 1127.47h0M355.93 1125.01h0M355.93 1124.78h0M355.93 1120.68h0M355.93 1120.59h0M355.93 1118.65h0M355.93 1116.88h0M355.93 1116.33h0M355.93 1115.32h0M355.93 1113.94h0M355.93 1111.74h0M355.93 1111.06h0M355.93 1110.52h0M355.93 1110.19h0M338.14 1145.53h0M338.14 1145.01h0M338.14 1143.70h0M338.14 1142.94h0M338.14 1141.40h0M338.14 1140.78h0M338.14 1139.53h0M338.14 1137.97h0M338.14 1137.33h0M338.14 1135.28h0M338.14 1132.00h0M338.14 1130.27h0M338.14 1128.89h0M338.14 1127.98h0M338.14 1125.83h0M338.14 1125.49h0M338.14 1123.85h0M338.14 1121.82h0M338.14 1120.39h0M338.14 1118.92h0M338.14 1117.88h0M338.14 1117.64h0M338.14 1116.55h0M338.14 1115.65h0M338.14 1114.45h0M338.14 1114.14h0M341.69 1146.38h0M341.69 1146.32h0M341.69 1145.79h0M341.69 1144.92h0M341.69 1143.33h0M341.69 1142.16h0M341.69 1140.37h0M341.69 1140.27h0M341.69 1138.05h0M341.69 1137.52h0M341.69 1135.52h0M341.69 1134.79h0M341.69 1132.68h0M341.69 1132.18h0M341.69 1129.71h0M341.69 1129.54h0M341.69 1127.38h0M341.69 1126.11h0M341.69 1125.21h0M341.69 1123.20h0M341.69 1121.36h0M341.69 1119.69h0M341.69 1118.44h0M341.69 1118.20h0M341.69 1116.90h0M341.69 1115.80h0M341.69 1114.88h0M341.69 1114.23h0M341.69 1114.17h0M341.69 1113.66h0M341.69 1113.35h0M345.25 1147.11h0M345.25 1146.58h0M345.25 1146.06h0M345.25 1145.70h0M345.25 1142.96h0M345.25 1142.91h0M345.25 1141.01h0M345.25 1139.96h0M345.25 1138.78h0M345.25 1137.07h0M345.25 1136.22h0M345.25 1134.30h0M345.25 1133.36h0M345.25 1130.19h0M345.25 1129.15h0M345.25 1126.79h0M345.25 1123.00h0M345.25 1122.55h0M345.25 1120.68h0M345.25 1119.00h0M345.25 1118.99h0M345.25 1116.16h0M345.25 1115.04h0M345.25 1114.76h0M345.25 1114.12h0M345.25 1112.88h0M345.25 1112.56h0M348.81 1147.90h0M348.81 1147.36h0M348.81 1146.48h0M348.81 1145.73h0M348.81 1145.25h0M348.81 1143.67h0M348.81 1142.59h0M348.81 1141.75h0M348.81 1139.55h0M348.81 1139.50h0M348.81 1136.92h0M348.81 1136.62h0M348.81 1131.13h0M348.81 1130.84h0M348.81 1128.59h0M348.81 1127.36h0M348.81 1126.20h0M348.81 1123.96h0M348.81 1123.59h0M348.81 1121.90h0M348.81 1120.00h0M348.81 1119.56h0M348.81 1118.29h0M348.81 1116.76h0M348.81 1115.42h0M348.81 1115.28h0M348.81 1112.61h0M348.81 1112.09h0M348.81 1111.77h0M327.46 1143.16h0M327.46 1142.65h0M327.46 1142.01h0M327.46 1141.81h0M327.46 1140.64h0M327.46 1139.32h0M327.46 1139.13h0M327.46 1137.31h0M327.46 1136.74h0M327.46 1135.17h0M327.46 1134.28h0M327.46 1131.95h0M327.46 1129.97h0M327.46 1129.75h0M327.46 1127.70h0M327.46 1126.93h0M327.46 1125.80h0M327.46 1124.06h0M327.46 1123.62h0M327.46 1120.04h0M327.46 1116.51h0M327.46 1116.20h0M331.02 1144.43h0M331.02 1143.95h0M331.02 1136.25h0M331.02 1135.89h0M331.02 1133.76h0M331.02 1133.42h0M331.02 1131.39h0M331.02 1121.79h0M331.02 1120.63h0M331.02 1120.37h0M331.02 1119.12h0M331.02 1118.06h0M331.02 1117.19h0M331.02 1116.76h0M331.02 1116.51h0M331.02 1116.02h0M331.02 1115.72h0M334.58 1144.74h0M334.58 1144.22h0M334.58 1144.06h0M334.58 1143.37h0M334.58 1142.17h0M334.58 1141.19h0M334.58 1140.64h0M334.58 1136.61h0M334.58 1134.12h0M334.58 1133.23h0M334.58 1131.33h0M334.58 1130.83h0M334.58 1128.57h0M334.58 1128.24h0M334.58 1126.46h0M334.58 1124.87h0M334.58 1124.50h0M334.58 1121.22h0M334.58 1121.09h0M334.58 1119.65h0M334.58 1118.38h0M334.58 1115.73h0M334.58 1115.23h0M334.58 1114.93h0M320.34 1140.22h0M320.34 1139.10h0M320.34 1137.72h0M320.34 1137.62h0M320.34 1135.83h0M320.34 1135.33h0M320.34 1133.72h0M320.34 1133.07h0M320.34 1131.32h0M320.34 1130.94h0M320.34 1128.95h0M320.34 1125.63h0M320.34 1125.42h0M320.34 1123.89h0M323.90 1142.42h0M323.90 1142.37h0M323.90 1141.86h0M323.90 1141.03h0M323.90 1139.87h0M323.90 1139.77h0M323.90 1138.38h0M323.90 1137.23h0M323.90 1136.57h0M323.90 1134.81h0M323.90 1123.19h0M323.90 1123.00h0M323.90 1121.81h0M323.90 1120.60h0M323.90 1119.57h0M323.90 1119.45h0M323.90 1118.73h0M323.90 1118.06h0M323.90 1117.59h0M323.90 1117.30h0M309.66 1139.21h0M309.66 1139.18h0M309.66 1138.72h0M309.66 1137.92h0M309.66 1136.90h0M309.66 1136.79h0M309.66 1135.36h0M309.66 1134.75h0M309.66 1133.61h0M309.66 1132.71h0M309.66 1131.56h0M309.66 1130.82h0M309.66 1129.22h0M309.66 1129.06h0M309.66 1127.45h0M309.66 1126.59h0M309.66 1125.99h0M309.66 1124.70h0M309.66 1123.68h0M309.66 1123.56h0M309.66 1122.60h0M309.66 1121.80h0M309.66 1121.18h0M309.66 1120.73h0M309.66 1120.50h0M309.66 1120.46h0M313.22 1140.00h0M313.22 1139.51h0M313.22 1138.70h0M313.22 1138.69h0M313.22 1137.56h0M313.22 1136.38h0M313.22 1136.11h0M313.22 1130.19h0M313.22 1129.92h0M313.22 1128.41h0M313.22 1127.26h0M313.22 1126.77h0M313.22 1125.29h0M313.22 1124.33h0M313.22 1123.98h0M313.22 1122.82h0M313.22 1121.13h0M313.22 1121.03h0M313.22 1120.40h0M313.22 1119.95h0M313.22 1119.67h0M316.78 1140.79h0M316.78 1140.67h0M316.78 1140.29h0M316.78 1139.47h0M316.78 1138.33h0M316.78 1138.21h0M316.78 1136.87h0M316.78 1133.00h0M316.78 1131.53h0M316.78 1130.62h0M316.78 1129.57h0M316.78 1127.94h0M316.78 1126.10h0M316.78 1124.98h0M316.78 1124.59h0M316.78 1123.25h0M316.78 1121.08h0M316.78 1120.26h0M316.78 1119.62h0M316.78 1119.16h0M302.54 1137.95h0M302.54 1137.63h0M302.54 1137.15h0M302.54 1136.36h0M302.54 1127.81h0M302.54 1127.40h0M302.54 1126.14h0M302.54 1125.23h0M302.54 1125.04h0M302.54 1124.11h0M302.54 1122.73h0M302.54 1122.38h0M302.54 1122.30h0M302.54 1122.04h0M306.10 1138.42h0M306.10 1137.94h0M306.10 1137.43h0M306.10 1137.14h0M306.10 1132.87h0M306.10 1131.44h0M306.10 1130.84h0M306.10 1129.71h0M306.10 1128.51h0M306.10 1128.13h0M306.10 1126.70h0M306.10 1125.91h0M306.10 1125.42h0M306.10 1124.30h0M306.10 1123.35h0M306.10 1123.03h0M306.10 1122.57h0M306.10 1121.96h0M306.10 1121.52h0M306.10 1121.25h0M295.42 1136.05h0M295.42 1135.58h0M295.42 1135.08h0M295.42 1134.80h0M295.42 1133.72h0M295.42 1133.31h0M295.42 1132.33h0M295.42 1131.67h0M295.42 1130.65h0M295.42 1130.16h0M295.42 1128.80h0M295.42 1128.67h0M295.42 1127.58h0M295.42 1126.52h0M295.42 1126.41h0M295.42 1125.62h0M295.42 1124.87h0M295.42 1124.29h0M295.42 1123.88h0M295.42 1123.87h0M295.42 1123.62h0M298.98 1136.84h0M298.98 1136.43h0M298.98 1136.37h0M298.98 1135.58h0M298.98 1134.49h0M298.98 1134.49h0M298.98 1133.09h0M298.98 1132.69h0M298.98 1131.39h0M298.98 1131.01h0M298.98 1129.48h0M298.98 1129.39h0M298.98 1128.10h0M298.98 1127.11h0M298.98 1126.86h0M298.98 1125.78h0M298.98 1124.86h0M298.98 1124.55h0M298.98 1124.11h0M298.98 1123.51h0M298.98 1123.09h0M298.98 1122.83h0M288.31 1134.55h0M288.31 1134.47h0M288.31 1127.23h0M288.31 1127.13h0M288.31 1126.41h0M288.31 1125.45h0M288.31 1125.20h0M288.31 1125.01h0M291.86 1135.68h0M291.86 1135.26h0M291.86 1134.79h0M291.86 1134.02h0M291.86 1133.93h0M291.86 1132.95h0M291.86 1132.32h0M291.86 1131.58h0M291.86 1130.84h0M291.86 1129.91h0M291.86 1129.50h0M291.86 1128.31h0M291.86 1127.95h0M291.86 1127.26h0M291.86 1126.37h0M291.86 1125.64h0M291.86 1125.07h0M291.86 1124.66h0M291.86 1124.41h0M284.75 1133.68h0M284.75 1133.62h0M284.75 1133.22h0M284.75 1132.47h0M284.75 1132.19h0M284.75 1131.41h0M284.75 1130.90h0M284.75 1130.07h0M284.75 1128.74h0M284.75 1128.43h0M284.75 1127.89h0M284.75 1127.18h0M284.75 1126.63h0M284.75 1126.51h0M284.75 1126.23h0M281.19 1132.89h0M281.19 1132.87h0M281.19 1132.44h0M281.19 1131.69h0M281.19 1131.60h0M281.19 1130.65h0M281.19 1130.47h0M281.19 1129.48h0M281.19 1129.31h0M281.19 1128.64h0M277.63 1132.10h0M277.63 1131.65h0M277.63 1131.19h0M277.63 1130.91h0M277.63 1130.22h0M277.63 1129.40h0M277.63 1128.72h0M277.63 1128.55h0M277.63 1128.18h0M277.63 1127.80h0M277.63 1127.57h0M274.07 1131.31h0M274.07 1130.96h0M274.07 1130.87h0M274.07 1130.15h0M274.07 1130.13h0M274.07 1129.48h0M274.07 1129.11h0M270.51 1130.91h0M270.51 1130.52h0"/>
<path stroke="#ff0000" stroke-opacity="0.45" stroke-width="0.8" d="M309.07 1123.4L355.17 1122.2"/>
<path stroke="#ff0000" stroke-width="3.0" d="M3.56 1067.96h0M7.12 1068.13h0M10.68 1068.31h0M14.24 1068.49h0M17.80 1068.67h0M21.36 1068.85h0M24.92 1069.03h0M28.47 1069.20h0M32.03 1069.38h0M35.59 1069.56h0M39.15 1069.74h0M42.71 1069.92h0M46.27 1070.10h0M49.83 1070.28h0M53.39 1070.45h0M56.95 1070.63h0M60.51 1070.81h0M64.07 1070.99h0M67.63 1071.17h0M71.19 1071.35h0M74.75 1071.54h0M78.31 1071.85h0M81.86 1072.16h0M85.42 1072.47h0M88.98 1072.78h0M92.54 1073.09h0M96.10 1073.40h0M99.66 1073.71h0M103.22 1074.02h0M106.78 1074.33h0M110.34 1074.64h0M113.90 1074.94h0M117.46 1075.25h0M121.02 1075.56h0M124.58 1075.87h0M128.14 1076.18h0M131.69 1076.49h0M135.25 1076.80h0M138.81 1077.11h0M142.37 1077.42h0M145.93 1077.73h0M149.49 1078.04h0M153.05 1078.37h0M156.61 1078.83h0M160.17 1079.30h0M163.73 1079.76h0M167.29 1080.23h0M170.85 1080.69h0M174.41 1081.16h0M177.97 1081.62h0M181.53 1082.09h0M185.08 1082.55h0M188.64 1083.02h0M192.20 1083.48h0M195.76 1083.94h0M199.32 1084.41h0M202.88 1084.87h0M206.44 1085.34h0M210.00 1085.80h0M213.56 1086.27h0M217.12 1086.73h0M220.68 1087.37h0M224.24 1088.10h0M227.80 1088.83h0M231.36 1089.56h0M234.92 1090.29h0M238.47 1091.02h0M242.03 1091.75h0M245.59 1092.48h0M249.15 1093.21h0M252.71 1093.95h0M256.27 1094.92h0M259.83 1095.90h0M263.39 1096.87h0M266.95 1097.84h0M270.51 1098.82h0M274.07 1099.81h0M277.63 1101.00h0M281.19 1102.18h0M284.75 1103.36h0M288.31 1104.54h0M291.86 1105.50h0M3.56 1151.51h0M7.12 1151.63h0M10.68 1151.75h0M14.24 1151.87h0M17.80 1151.99h0M21.36 1152.11h0M24.92 1152.23h0M28.47 1152.35h0M32.03 1152.47h0M35.59 1152.59h0M39.15 1152.71h0M42.71 1152.83h0M46.27 1152.95h0M49.83 1153.07h0M53.39 1153.19h0M56.95 1153.32h0M60.51 1153.44h0M64.07 1153.56h0M67.63 1153.68h0M71.19 1153.80h0M74.75 1153.90h0M78.31 1153.88h0M81.86 1153.87h0M85.42 1153.86h0M88.98 1153.84h0M92.54 1153.83h0M96.10 1153.82h0M99.66 1153.80h0M103.22 1153.79h0M106.78 1153.78h0M110.34 1153.76h0M113.90 1153.75h0M117.46 1153.74h0M121.02 1153.72h0M124.58 1153.71h0M128.14 1153.69h0M131.69 1153.68h0M135.25 1153.67h0M138.81 1153.65h0M142.37 1153.64h0M145.93 1153.63h0M149.49 1153.61h0M153.05 1153.60h0M156.61 1153.53h0M160.17 1153.46h0M163.73 1153.39h0M167.29 1153.32h0M170.85 1153.25h0M174.41 1153.18h0M177.97 1153.11h0M181.53 1153.04h0M185.08 1152.97h0M188.64 1152.90h0M192.20 1152.83h0M195.76 1152.76h0M199.32 1152.69h0M202.88 1152.62h0M206.44 1152.55h0M210.00 1152.48h0M213.56 1152.41h0M217.12 1152.23h0M220.68 1152.03h0M224.24 1151.82h0M227.80 1151.62h0M231.36 1151.41h0M234.92 1151.21h0M238.47 1151.01h0M242.03 1150.80h0M245.59 1150.60h0M249.15 1150.39h0M252.71 1150.19h0M256.27 1149.97h0M259.83 1149.75h0M263.39 1149.52h0M266.95 1149.30h0M270.51 1149.08h0M274.07 1148.84h0M277.63 1148.52h0M281.19 1148.21h0M284.75 1147.89h0M288.31 1147.58h0M291.86 1147.26h0M295.42 1147.07h0M298.98 1147.49h0M302.54 1147.92h0M306.10 1148.38h0M309.66 1149.27h0M313.22 1150.16h0M316.78 1150.90h0M309.66 1123.40h0M323.90 1123.00h0M338.14 1122.60h0M355.93 1122.20h0M320.34 1138.60h0M323.90 1139.20h0M327.46 1141.20h0M331.02 1137.30h0M334.58 1143.10h0M338.14 1142.50h0M341.69 1143.10h0M345.25 1145.10h0M348.81 1145.70h0M352.37 1147.60h0M355.93 1143.80h0"/>
</g>
<text font-size="23" text-anchor="middle" transform="translate(69.20 312.50) scale(1.18 1)">0</text>
<text font-size="23" text-anchor="middle" transform="translate(153.12 312.50) scale(1.18 1)">0.2</text>
<text font-size="23" text-anchor="middle" transform="translate(237.04 312.50) scale(1.18 1)">0.4</text>
<text font-size="23" text-anchor="middle" transform="translate(320.96 312.50) scale(1.18 1)">0.6</text>
<text font-size="23" text-anchor="middle" transform="translate(404.88 312.50) scale(1.18 1)">0.8</text>
<text font-size="23" text-anchor="middle" transform="translate(488.80 312.50) scale(1.18 1)">1</text>
<text font-size="23" text-anchor="end" transform="translate(65.80 257.84) scale(1.18 1)">-2</text>
<text font-size="23" text-anchor="end" transform="translate(65.80 178.53) scale(1.18 1)">0</text>
<text font-size="23" text-anchor="end" transform="translate(65.80 99.21) scale(1.18 1)">2</text>
<text font-size="23" text-anchor="end" transform="translate(65.80 19.90) scale(1.18 1)">4</text>
<text font-size="23" text-anchor="middle" transform="translate(68.00 628.20) scale(1.18 1)">0</text>
<text font-size="23" text-anchor="middle" transform="translate(151.96 628.20) scale(1.18 1)">0.2</text>
<text font-size="23" text-anchor="middle" transform="translate(235.92 628.20) scale(1.18 1)">0.4</text>
<text font-size="23" text-anchor="middle" transform="translate(319.88 628.20) scale(1.18 1)">0.6</text>
<text font-size="23" text-anchor="middle" transform="translate(403.84 628.20) scale(1.18 1)">0.8</text>
<text font-size="23" text-anchor="middle" transform="translate(487.80 628.20) scale(1.18 1)">1</text>
<text font-size="23" text-anchor="end" transform="translate(64.60 573.59) scale(1.18 1)">-2</text>
<text font-size="23" text-anchor="end" transform="translate(64.60 494.36) scale(1.18 1)">0</text>
<text font-size="23" text-anchor="end" transform="translate(64.60 415.13) scale(1.18 1)">2</text>
<text font-size="23" text-anchor="end" transform="translate(64.60 335.90) scale(1.18 1)">4</text>
<text font-size="23" text-anchor="middle" transform="translate(70.70 940.20) scale(1.18 1)">0</text>
<text font-size="23" text-anchor="middle" transform="translate(154.60 940.20) scale(1.18 1)">0.2</text>
<text font-size="23" text-anchor="middle" transform="translate(238.50 940.20) scale(1.18 1)">0.4</text>
<text font-size="23" text-anchor="middle" transform="translate(322.40 940.20) scale(1.18 1)">0.6</text>
<text font-size="23" text-anchor="middle" transform="translate(406.30 940.20) scale(1.18 1)">0.8</text>
<text font-size="23" text-anchor="middle" transform="translate(490.20 940.20) scale(1.18 1)">1</text>
<text font-size="23" text-anchor="end" transform="translate(67.30 885.59) scale(1.18 1)">-2</text>
<text font-size="23" text-anchor="end" transform="translate(67.30 806.36) scale(1.18 1)">0</text>
<text font-size="23" text-anchor="end" transform="translate(67.30 727.13) scale(1.18 1)">2</text>
<text font-size="23" text-anchor="end" transform="translate(67.30 647.90) scale(1.18 1)">4</text>
<text font-size="23" text-anchor="middle" transform="translate(72.00 1252.10) scale(1.18 1)">0</text>
<text font-size="23" text-anchor="middle" transform="translate(156.00 1252.10) scale(1.18 1)">0.2</text>
<text font-size="23" text-anchor="middle" transform="translate(240.00 1252.10) scale(1.18 1)">0.4</text>
<text font-size="23" text-anchor="middle" transform="translate(324.00 1252.10) scale(1.18 1)">0.6</text>
<text font-size="23" text-anchor="middle" transform="translate(408.00 1252.10) scale(1.18 1)">0.8</text>
<text font-size="23" text-anchor="middle" transform="translate(492.00 1252.10) scale(1.18 1)">1</text>
<text font-size="23" text-anchor="end" transform="translate(68.60 1197.53) scale(1.18 1)">-2</text>
<text font-size="23" text-anchor="end" transform="translate(68.60 1118.39) scale(1.18 1)">0</text>
<text font-size="23" text-anchor="end" transform="translate(68.60 1039.24) scale(1.18 1)">2</text>
<text font-size="23" text-anchor="end" transform="translate(68.60 960.10) scale(1.18 1)">4</text>
<line x1="569.5" y1="152.25" x2="989.3" y2="152.25" stroke="#0000ff" stroke-width="2.6"/>
<path stroke="#0000ff" stroke-width="3.1" stroke-linecap="round" d="M573.70 152.25h0M577.90 152.25h0M582.09 152.25h0M586.29 152.25h0M590.49 152.25h0M594.69 152.25h0M598.89 152.25h0M603.08 152.25h0M607.28 152.25h0M611.48 152.25h0M615.68 152.25h0M619.88 152.25h0M624.07 152.25h0M628.27 152.25h0M632.47 152.25h0M636.67 152.25h0M640.87 152.25h0M645.06 152.25h0M649.26 152.25h0M653.46 152.25h0M657.66 152.25h0M661.86 152.25h0M666.05 152.25h0M670.25 152.25h0M674.45 152.25h0M678.65 152.25h0M682.85 152.25h0M687.04 152.25h0M691.24 152.25h0M695.44 152.25h0M699.64 152.25h0M703.84 152.25h0M708.03 152.25h0M712.23 152.25h0M716.43 152.25h0M720.63 152.25h0M724.83 152.25h0M729.02 152.25h0M733.22 152.25h0M737.42 152.25h0M741.62 152.25h0M745.82 152.25h0M750.01 152.25h0M754.21 152.25h0M758.41 152.25h0M762.61 152.25h0M766.81 152.25h0M771.00 152.25h0M775.20 152.25h0M779.40 152.25h0M783.60 152.25h0M787.80 152.25h0M791.99 152.25h0M796.19 152.25h0M800.39 152.25h0M804.59 152.25h0M808.79 152.25h0M812.98 152.25h0M817.18 152.25h0M821.38 152.25h0M825.58 152.25h0M829.78 152.25h0M833.97 152.25h0M838.17 152.25h0M842.37 152.25h0M846.57 152.25h0M850.77 152.25h0M854.96 152.25h0M859.16 152.25h0M863.36 152.25h0M867.56 152.25h0M871.76 152.25h0M875.95 152.25h0M880.15 152.25h0M884.35 152.25h0M888.55 152.25h0M892.75 152.25h0M896.94 152.25h0M901.14 152.25h0M905.34 152.25h0M909.54 152.25h0M913.74 152.25h0M917.93 152.25h0M922.13 152.25h0M926.33 152.25h0M930.53 152.25h0M934.73 152.25h0M938.92 152.25h0M943.12 152.25h0M947.32 152.25h0M951.52 152.25h0M955.72 152.25h0M959.91 152.25h0M964.11 152.25h0M968.31 152.25h0M972.51 152.25h0M976.71 152.25h0M980.90 152.25h0M985.10 152.25h0M989.30 152.25h0"/>
<path stroke="#ff0000" stroke-width="2.5" stroke-linecap="round" fill="none" d="M636.67 143.62h0M640.87 118.13h0M645.06 95.47h0M649.26 76.54h0M653.46 60.38h0M657.66 46.98h0M661.86 37.17h0M666.05 29.71h0M670.25 25.43h0M674.45 24.32h0M678.65 25.43h0M682.85 30.13h0M687.04 37.17h0M691.24 46.98h0M695.44 59.83h0M699.64 74.61h0M703.84 91.88h0M708.03 112.32h0M712.23 134.29h0M636.67 161.78h0M640.87 187.20h0M645.06 209.86h0M649.26 228.65h0M653.46 245.09h0M657.66 258.35h0M661.86 268.16h0M666.05 275.62h0M670.25 279.62h0M674.45 280.59h0M678.65 279.62h0M682.85 275.20h0M687.04 268.16h0M691.24 258.35h0M695.44 245.50h0M699.64 230.30h0M703.84 213.04h0M708.03 193.00h0M712.23 171.04h0M922.13 150.00h0M922.13 154.50h0M926.33 150.25h0M926.33 154.25h0M938.92 150.75h0M938.92 153.75h0M947.32 148.85h0M947.32 155.65h0M951.52 149.25h0M951.52 155.25h0M964.11 148.40h0M964.11 156.10h0M968.31 149.25h0M968.31 155.25h0M972.51 150.75h0M972.51 153.75h0M985.10 147.85h0M985.10 156.65h0M989.30 152.25h0"/>
<text x="569.50" y="313.00" font-size="23" text-anchor="middle">0</text>
<text x="653.46" y="313.00" font-size="23" text-anchor="middle">0.2</text>
<text x="737.42" y="313.00" font-size="23" text-anchor="middle">0.4</text>
<text x="821.38" y="313.00" font-size="23" text-anchor="middle">0.6</text>
<text x="905.34" y="313.00" font-size="23" text-anchor="middle">0.8</text>
<text x="989.30" y="313.00" font-size="23" text-anchor="middle">1</text>
<text x="566.50" y="298.40" font-size="23" text-anchor="end">-0.1</text>
<text x="566.50" y="229.32" font-size="23" text-anchor="end">-0.05</text>
<text x="566.50" y="160.25" font-size="23" text-anchor="end">0</text>
<text x="566.50" y="91.17" font-size="23" text-anchor="end">0.05</text>
<text x="566.50" y="22.10" font-size="23" text-anchor="end">0.1</text>
<line x1="568.7" y1="464.55" x2="988.4" y2="464.55" stroke="#0000ff" stroke-width="2.6"/>
<path stroke="#0000ff" stroke-width="3.1" stroke-linecap="round" d="M572.90 464.55h0M577.09 464.55h0M581.29 464.55h0M585.49 464.55h0M589.69 464.55h0M593.88 464.55h0M598.08 464.55h0M602.28 464.55h0M606.47 464.55h0M610.67 464.55h0M614.87 464.55h0M619.06 464.55h0M623.26 464.55h0M627.46 464.55h0M631.65 464.55h0M635.85 464.55h0M640.05 464.55h0M644.25 464.55h0M648.44 464.55h0M652.64 464.55h0M656.84 464.55h0M661.03 464.55h0M665.23 464.55h0M669.43 464.55h0M673.62 464.55h0M677.82 464.55h0M682.02 464.55h0M686.22 464.55h0M690.41 464.55h0M694.61 464.55h0M698.81 464.55h0M703.00 464.55h0M707.20 464.55h0M711.40 464.55h0M715.60 464.55h0M719.79 464.55h0M723.99 464.55h0M728.19 464.55h0M732.38 464.55h0M736.58 464.55h0M740.78 464.55h0M744.97 464.55h0M749.17 464.55h0M753.37 464.55h0M757.57 464.55h0M761.76 464.55h0M765.96 464.55h0M770.16 464.55h0M774.35 464.55h0M778.55 464.55h0M782.75 464.55h0M786.94 464.55h0M791.14 464.55h0M795.34 464.55h0M799.54 464.55h0M803.73 464.55h0M807.93 464.55h0M812.13 464.55h0M816.32 464.55h0M820.52 464.55h0M824.72 464.55h0M828.91 464.55h0M833.11 464.55h0M837.31 464.55h0M841.50 464.55h0M845.70 464.55h0M849.90 464.55h0M854.10 464.55h0M858.29 464.55h0M862.49 464.55h0M866.69 464.55h0M870.88 464.55h0M875.08 464.55h0M879.28 464.55h0M883.48 464.55h0M887.67 464.55h0M891.87 464.55h0M896.07 464.55h0M900.26 464.55h0M904.46 464.55h0M908.66 464.55h0M912.85 464.55h0M917.05 464.55h0M921.25 464.55h0M925.44 464.55h0M929.64 464.55h0M933.84 464.55h0M938.04 464.55h0M942.23 464.55h0M946.43 464.55h0M950.63 464.55h0M954.82 464.55h0M959.02 464.55h0M963.22 464.55h0M967.41 464.55h0M971.61 464.55h0M975.81 464.55h0M980.01 464.55h0M984.20 464.55h0M988.40 464.55h0"/>
<path stroke="#ff0000" stroke-width="2.5" stroke-linecap="round" fill="none" d="M568.70 380.46h0M568.70 548.64h0M572.90 376.49h0M572.90 552.61h0M577.09 372.68h0M577.09 556.42h0M581.29 369.02h0M581.29 560.08h0M585.49 365.52h0M585.49 563.58h0M589.69 362.17h0M589.69 566.93h0M593.88 358.99h0M593.88 570.11h0M598.08 355.98h0M598.08 573.12h0M602.28 353.12h0M602.28 575.98h0M606.47 350.43h0M606.47 578.67h0M610.67 347.91h0M610.67 581.19h0M614.87 345.55h0M614.87 583.55h0M619.06 343.37h0M619.06 585.73h0M623.26 341.35h0M623.26 587.75h0M627.46 339.50h0M627.46 589.60h0M631.65 337.82h0M631.65 591.28h0M635.85 336.31h0M635.85 592.79h0M640.05 334.98h0M640.05 594.12h0M644.25 333.82h0M644.25 595.28h0M648.44 332.83h0M648.44 596.27h0M652.64 332.02h0M652.64 597.08h0M656.84 331.39h0M656.84 597.71h0M661.03 330.93h0M661.03 598.17h0M665.23 330.65h0M665.23 598.45h0M669.43 330.55h0M669.43 598.55h0M673.62 330.63h0M673.62 598.47h0M677.82 330.90h0M677.82 598.20h0M682.02 331.34h0M682.02 597.76h0M686.22 331.97h0M686.22 597.13h0M690.41 332.78h0M690.41 596.32h0M694.61 333.78h0M694.61 595.32h0M698.81 334.97h0M698.81 594.13h0M703.00 336.34h0M703.00 592.76h0M707.20 337.90h0M707.20 591.20h0M711.40 339.66h0M711.40 589.44h0M715.60 341.61h0M715.60 587.49h0M719.79 343.75h0M719.79 585.35h0M723.99 346.09h0M723.99 583.01h0M728.19 348.62h0M728.19 580.48h0M732.38 351.35h0M732.38 577.75h0M736.58 354.28h0M736.58 574.82h0M740.78 357.42h0M740.78 571.68h0M744.97 360.75h0M744.97 568.35h0M749.17 364.29h0M749.17 564.81h0M753.37 368.02h0M753.37 561.08h0M757.57 371.97h0M757.57 557.13h0M761.76 376.12h0M761.76 552.98h0M765.96 380.48h0M765.96 548.62h0M770.16 385.04h0M770.16 544.06h0M774.35 389.81h0M774.35 539.29h0M778.55 394.79h0M778.55 534.31h0M782.75 399.98h0M782.75 529.12h0M786.94 405.37h0M786.94 523.73h0M791.14 410.97h0M791.14 518.13h0M795.34 416.78h0M795.34 512.32h0M799.54 422.80h0M799.54 506.30h0M803.73 429.02h0M803.73 500.08h0M807.93 435.44h0M807.93 493.66h0M812.13 442.07h0M812.13 487.03h0M816.32 448.90h0M816.32 480.20h0M820.52 455.92h0M820.52 473.18h0M824.72 463.14h0M824.72 465.96h0M572.90 384.20h0M572.90 544.90h0M577.09 388.60h0M577.09 540.50h0M581.29 393.07h0M581.29 536.03h0M585.49 397.64h0M585.49 531.46h0M589.69 402.33h0M589.69 526.77h0M593.88 407.16h0M593.88 521.94h0M598.08 412.15h0M598.08 516.95h0M602.28 417.29h0M602.28 511.81h0M606.47 422.60h0M606.47 506.50h0M610.67 428.05h0M610.67 501.05h0M614.87 433.65h0M614.87 495.45h0M619.06 439.36h0M619.06 489.74h0M623.26 445.16h0M623.26 483.94h0M627.46 451.02h0M627.46 478.08h0M631.65 456.90h0M631.65 472.20h0M635.85 462.74h0M635.85 466.36h0M896.07 464.55h0M900.26 464.55h0M904.46 463.75h0M904.46 465.35h0M912.85 461.75h0M912.85 467.35h0M921.25 461.35h0M921.25 467.75h0M921.25 463.35h0M921.25 465.75h0M925.44 461.75h0M925.44 467.35h0M933.84 460.95h0M933.84 468.15h0M933.84 462.95h0M933.84 466.15h0M938.04 461.55h0M938.04 467.55h0M942.23 463.75h0M942.23 465.35h0M946.43 459.95h0M946.43 469.15h0M946.43 461.95h0M946.43 467.15h0M950.63 460.05h0M950.63 469.05h0M950.63 462.05h0M950.63 467.05h0M954.82 460.35h0M954.82 468.75h0M954.82 462.35h0M954.82 466.75h0M959.02 462.35h0M959.02 466.75h0M963.22 459.65h0M963.22 469.45h0M963.22 461.65h0M963.22 467.45h0M967.41 460.55h0M967.41 468.55h0M967.41 462.55h0M967.41 466.55h0M971.61 460.95h0M971.61 468.15h0M971.61 462.95h0M971.61 466.15h0M975.81 459.55h0M975.81 469.55h0M975.81 461.55h0M975.81 467.55h0M980.01 459.55h0M980.01 469.55h0M980.01 461.55h0M980.01 467.55h0M984.20 459.15h0M984.20 469.95h0M984.20 461.15h0M984.20 467.95h0M984.20 463.15h0M984.20 465.95h0M988.40 459.55h0M988.40 469.55h0M988.40 461.55h0M988.40 467.55h0"/>
<text x="568.70" y="625.50" font-size="23" text-anchor="middle">0</text>
<text x="652.64" y="625.50" font-size="23" text-anchor="middle">0.2</text>
<text x="736.58" y="625.50" font-size="23" text-anchor="middle">0.4</text>
<text x="820.52" y="625.50" font-size="23" text-anchor="middle">0.6</text>
<text x="904.46" y="625.50" font-size="23" text-anchor="middle">0.8</text>
<text x="988.40" y="625.50" font-size="23" text-anchor="middle">1</text>
<text x="565.70" y="610.90" font-size="23" text-anchor="end">-0.4</text>
<text x="565.70" y="541.73" font-size="23" text-anchor="end">-0.2</text>
<text x="565.70" y="472.55" font-size="23" text-anchor="end">0</text>
<text x="565.70" y="403.38" font-size="23" text-anchor="end">0.2</text>
<text x="565.70" y="334.20" font-size="23" text-anchor="end">0.4</text>
<line x1="568.6" y1="777.05" x2="988.4" y2="777.05" stroke="#0000ff" stroke-width="2.6"/>
<path stroke="#0000ff" stroke-width="3.1" stroke-linecap="round" d="M572.80 777.05h0M577.00 777.05h0M581.19 777.05h0M585.39 777.05h0M589.59 777.05h0M593.79 777.05h0M597.99 777.05h0M602.18 777.05h0M606.38 777.05h0M610.58 777.05h0M614.78 777.05h0M618.98 777.05h0M623.17 777.05h0M627.37 777.05h0M631.57 777.05h0M635.77 777.05h0M639.97 777.05h0M644.16 777.05h0M648.36 777.05h0M652.56 777.05h0M656.76 777.05h0M660.96 777.05h0M665.15 777.05h0M669.35 777.05h0M673.55 777.05h0M677.75 777.05h0M681.95 777.05h0M686.14 777.05h0M690.34 777.05h0M694.54 777.05h0M698.74 777.05h0M702.94 777.05h0M707.13 777.05h0M711.33 777.05h0M715.53 777.05h0M719.73 777.05h0M723.93 777.05h0M728.12 777.05h0M732.32 777.05h0M736.52 777.05h0M740.72 777.05h0M744.92 777.05h0M749.11 777.05h0M753.31 777.05h0M757.51 777.05h0M761.71 777.05h0M765.91 777.05h0M770.10 777.05h0M774.30 777.05h0M778.50 777.05h0M782.70 777.05h0M786.90 777.05h0M791.09 777.05h0M795.29 777.05h0M799.49 777.05h0M803.69 777.05h0M807.89 777.05h0M812.08 777.05h0M816.28 777.05h0M820.48 777.05h0M824.68 777.05h0M828.88 777.05h0M833.07 777.05h0M837.27 777.05h0M841.47 777.05h0M845.67 777.05h0M849.87 777.05h0M854.06 777.05h0M858.26 777.05h0M862.46 777.05h0M866.66 777.05h0M870.86 777.05h0M875.05 777.05h0M879.25 777.05h0M883.45 777.05h0M887.65 777.05h0M891.85 777.05h0M896.04 777.05h0M900.24 777.05h0M904.44 777.05h0M908.64 777.05h0M912.84 777.05h0M917.03 777.05h0M921.23 777.05h0M925.43 777.05h0M929.63 777.05h0M933.83 777.05h0M938.02 777.05h0M942.22 777.05h0M946.42 777.05h0M950.62 777.05h0M954.82 777.05h0M959.01 777.05h0M963.21 777.05h0M967.41 777.05h0M971.61 777.05h0M975.81 777.05h0M980.00 777.05h0M984.20 777.05h0M988.40 777.05h0"/>
<path stroke="#ff0000" stroke-width="2.5" stroke-linecap="round" fill="none" d="M568.60 684.12h0M568.60 869.98h0M572.80 683.29h0M572.80 870.81h0M577.00 682.53h0M577.00 871.57h0M581.19 681.82h0M581.19 872.28h0M585.39 681.16h0M585.39 872.94h0M589.59 680.56h0M589.59 873.54h0M593.79 680.00h0M593.79 874.10h0M597.99 679.49h0M597.99 874.61h0M602.18 679.02h0M602.18 875.08h0M606.38 678.60h0M606.38 875.50h0M610.58 678.22h0M610.58 875.88h0M614.78 677.88h0M614.78 876.22h0M618.98 677.57h0M618.98 876.53h0M623.17 677.31h0M623.17 876.79h0M627.37 677.08h0M627.37 877.02h0M631.57 676.89h0M631.57 877.21h0M635.77 676.74h0M635.77 877.36h0M639.97 676.61h0M639.97 877.49h0M644.16 676.53h0M644.16 877.57h0M648.36 676.47h0M648.36 877.63h0M652.56 676.45h0M652.56 877.65h0M656.76 676.47h0M656.76 877.63h0M660.96 676.51h0M660.96 877.59h0M665.15 676.59h0M665.15 877.51h0M669.35 676.70h0M669.35 877.40h0M673.55 676.85h0M673.55 877.25h0M677.75 677.03h0M677.75 877.07h0M681.95 677.25h0M681.95 876.85h0M686.14 677.49h0M686.14 876.61h0M690.34 677.78h0M690.34 876.32h0M694.54 678.10h0M694.54 876.00h0M698.74 678.45h0M698.74 875.65h0M702.94 678.84h0M702.94 875.26h0M707.13 679.27h0M707.13 874.83h0M711.33 679.74h0M711.33 874.36h0M715.53 680.24h0M715.53 873.86h0M719.73 680.79h0M719.73 873.31h0M723.93 681.38h0M723.93 872.72h0M728.12 682.00h0M728.12 872.10h0M732.32 682.67h0M732.32 871.43h0M736.52 683.38h0M736.52 870.72h0M740.72 684.14h0M740.72 869.96h0M744.92 684.94h0M744.92 869.16h0M749.11 685.79h0M749.11 868.31h0M753.31 686.68h0M753.31 867.42h0M757.51 687.63h0M757.51 866.47h0M761.71 688.62h0M761.71 865.48h0M765.91 689.66h0M765.91 864.44h0M770.10 690.76h0M770.10 863.34h0M774.30 691.90h0M774.30 862.20h0M778.50 693.11h0M778.50 860.99h0M782.70 694.36h0M782.70 859.74h0M786.90 695.68h0M786.90 858.42h0M791.09 697.05h0M791.09 857.05h0M795.29 698.48h0M795.29 855.62h0M799.49 699.98h0M799.49 854.12h0M803.69 701.53h0M803.69 852.57h0M807.89 703.15h0M807.89 850.95h0M812.08 704.83h0M812.08 849.27h0M816.28 706.58h0M816.28 847.52h0M820.48 708.40h0M820.48 845.70h0M824.68 710.28h0M824.68 843.82h0M828.88 712.24h0M828.88 841.86h0M833.07 714.27h0M833.07 839.83h0M837.27 716.37h0M837.27 837.73h0M841.47 718.55h0M841.47 835.55h0M845.67 720.80h0M845.67 833.30h0M849.87 723.14h0M849.87 830.96h0M854.06 725.55h0M854.06 828.55h0M858.26 728.05h0M858.26 826.05h0M862.46 730.63h0M862.46 823.47h0M866.66 733.29h0M866.66 820.81h0M870.86 736.04h0M870.86 818.06h0M875.05 738.89h0M875.05 815.21h0M879.25 741.82h0M879.25 812.28h0M883.45 744.85h0M883.45 809.25h0M887.65 747.97h0M887.65 806.13h0M891.85 751.19h0M891.85 802.91h0M896.04 754.51h0M896.04 799.59h0M900.24 757.93h0M900.24 796.17h0M904.44 761.46h0M904.44 792.64h0M908.64 765.09h0M908.64 789.01h0M912.84 768.84h0M912.84 785.26h0M917.03 772.70h0M917.03 781.40h0M572.80 685.38h0M572.80 868.72h0M577.00 686.26h0M577.00 867.84h0M581.19 687.18h0M581.19 866.92h0M585.39 688.12h0M585.39 865.98h0M589.59 689.09h0M589.59 865.01h0M593.79 690.08h0M593.79 864.02h0M597.99 691.10h0M597.99 863.00h0M602.18 692.15h0M602.18 861.95h0M606.38 693.22h0M606.38 860.88h0M610.58 694.32h0M610.58 859.78h0M614.78 695.44h0M614.78 858.66h0M618.98 696.58h0M618.98 857.52h0M623.17 697.75h0M623.17 856.35h0M627.37 698.95h0M627.37 855.15h0M631.57 700.17h0M631.57 853.93h0M635.77 701.42h0M635.77 852.68h0M639.97 702.70h0M639.97 851.40h0M644.16 704.00h0M644.16 850.10h0M648.36 705.33h0M648.36 848.77h0M652.56 706.69h0M652.56 847.41h0M656.76 708.09h0M656.76 846.01h0M660.96 709.51h0M660.96 844.59h0M665.15 710.96h0M665.15 843.14h0M669.35 712.45h0M669.35 841.65h0M673.55 713.97h0M673.55 840.13h0M677.75 715.52h0M677.75 838.58h0M681.95 717.11h0M681.95 836.99h0M686.14 718.73h0M686.14 835.37h0M690.34 720.39h0M690.34 833.71h0M694.54 722.08h0M694.54 832.02h0M698.74 723.81h0M698.74 830.29h0M702.94 725.57h0M702.94 828.53h0M707.13 727.36h0M707.13 826.74h0M711.33 729.19h0M711.33 824.91h0M715.53 731.06h0M715.53 823.04h0M719.73 732.96h0M719.73 821.14h0M723.93 734.89h0M723.93 819.21h0M728.12 736.85h0M728.12 817.25h0M732.32 738.85h0M732.32 815.25h0M736.52 740.87h0M736.52 813.23h0M740.72 742.92h0M740.72 811.18h0M744.92 745.00h0M744.92 809.10h0M749.11 747.10h0M749.11 807.00h0M753.31 749.23h0M753.31 804.87h0M757.51 751.37h0M757.51 802.73h0M761.71 753.53h0M761.71 800.57h0M765.91 755.70h0M765.91 798.40h0M770.10 757.89h0M770.10 796.21h0M774.30 760.08h0M774.30 794.02h0M778.50 762.28h0M778.50 791.82h0M782.70 764.48h0M782.70 789.62h0M786.90 766.68h0M786.90 787.42h0M791.09 768.87h0M791.09 785.23h0M795.29 771.05h0M795.29 783.05h0M799.49 773.21h0M799.49 780.89h0M803.69 775.36h0M803.69 778.74h0M912.84 775.05h0M912.84 779.05h0M917.03 775.55h0M917.03 778.55h0M921.23 774.15h0M921.23 779.95h0M925.43 773.45h0M925.43 780.65h0M925.43 775.45h0M925.43 778.65h0M929.63 773.45h0M929.63 780.65h0M929.63 775.45h0M929.63 778.65h0M933.83 772.95h0M933.83 781.15h0M933.83 774.95h0M933.83 779.15h0M938.02 772.35h0M938.02 781.75h0M938.02 774.35h0M938.02 779.75h0M942.22 772.65h0M942.22 781.45h0M942.22 774.65h0M942.22 779.45h0M946.42 772.45h0M946.42 781.65h0M946.42 774.45h0M946.42 779.65h0M950.62 771.35h0M950.62 782.75h0M950.62 773.35h0M950.62 780.75h0M950.62 775.35h0M950.62 778.75h0M954.82 771.35h0M954.82 782.75h0M954.82 773.35h0M954.82 780.75h0M954.82 775.35h0M954.82 778.75h0M959.01 771.55h0M959.01 782.55h0M959.01 773.55h0M959.01 780.55h0M959.01 775.55h0M959.01 778.55h0M963.21 771.25h0M963.21 782.85h0M963.21 773.25h0M963.21 780.85h0M963.21 775.25h0M963.21 778.85h0M967.41 769.85h0M967.41 784.25h0M967.41 771.85h0M967.41 782.25h0M967.41 773.85h0M967.41 780.25h0M967.41 775.85h0M967.41 778.25h0M971.61 769.35h0M971.61 784.75h0M971.61 771.35h0M971.61 782.75h0M971.61 773.35h0M971.61 780.75h0M971.61 775.35h0M971.61 778.75h0M975.81 769.35h0M975.81 784.75h0M975.81 771.35h0M975.81 782.75h0M975.81 773.35h0M975.81 780.75h0M975.81 775.35h0M975.81 778.75h0M980.00 770.25h0M980.00 783.85h0M980.00 772.25h0M980.00 781.85h0M980.00 774.25h0M980.00 779.85h0M984.20 769.05h0M984.20 785.05h0M984.20 771.05h0M984.20 783.05h0M984.20 773.05h0M984.20 781.05h0M984.20 775.05h0M984.20 779.05h0M988.40 768.85h0M988.40 785.25h0M988.40 770.85h0M988.40 783.25h0M988.40 772.85h0M988.40 781.25h0M988.40 774.85h0M988.40 779.25h0"/>
<text x="568.60" y="938.00" font-size="23" text-anchor="middle">0</text>
<text x="652.56" y="938.00" font-size="23" text-anchor="middle">0.2</text>
<text x="736.52" y="938.00" font-size="23" text-anchor="middle">0.4</text>
<text x="820.48" y="938.00" font-size="23" text-anchor="middle">0.6</text>
<text x="904.44" y="938.00" font-size="23" text-anchor="middle">0.8</text>
<text x="988.40" y="938.00" font-size="23" text-anchor="middle">1</text>
<text x="565.60" y="923.40" font-size="23" text-anchor="end">-1</text>
<text x="565.60" y="854.23" font-size="23" text-anchor="end">-0.5</text>
<text x="565.60" y="785.05" font-size="23" text-anchor="end">0</text>
<text x="565.60" y="715.88" font-size="23" text-anchor="end">0.5</text>
<text x="565.60" y="646.70" font-size="23" text-anchor="end">1</text>
<line x1="570.8" y1="1089" x2="990.1" y2="1089" stroke="#0000ff" stroke-width="2.6"/>
<path stroke="#0000ff" stroke-width="3.1" stroke-linecap="round" d="M574.99 1089.00h0M579.19 1089.00h0M583.38 1089.00h0M587.57 1089.00h0M591.76 1089.00h0M595.96 1089.00h0M600.15 1089.00h0M604.34 1089.00h0M608.54 1089.00h0M612.73 1089.00h0M616.92 1089.00h0M621.12 1089.00h0M625.31 1089.00h0M629.50 1089.00h0M633.69 1089.00h0M637.89 1089.00h0M642.08 1089.00h0M646.27 1089.00h0M650.47 1089.00h0M654.66 1089.00h0M658.85 1089.00h0M663.05 1089.00h0M667.24 1089.00h0M671.43 1089.00h0M675.62 1089.00h0M679.82 1089.00h0M684.01 1089.00h0M688.20 1089.00h0M692.40 1089.00h0M696.59 1089.00h0M700.78 1089.00h0M704.98 1089.00h0M709.17 1089.00h0M713.36 1089.00h0M717.55 1089.00h0M721.75 1089.00h0M725.94 1089.00h0M730.13 1089.00h0M734.33 1089.00h0M738.52 1089.00h0M742.71 1089.00h0M746.91 1089.00h0M751.10 1089.00h0M755.29 1089.00h0M759.49 1089.00h0M763.68 1089.00h0M767.87 1089.00h0M772.06 1089.00h0M776.26 1089.00h0M780.45 1089.00h0M784.64 1089.00h0M788.84 1089.00h0M793.03 1089.00h0M797.22 1089.00h0M801.41 1089.00h0M805.61 1089.00h0M809.80 1089.00h0M813.99 1089.00h0M818.19 1089.00h0M822.38 1089.00h0M826.57 1089.00h0M830.77 1089.00h0M834.96 1089.00h0M839.15 1089.00h0M843.35 1089.00h0M847.54 1089.00h0M851.73 1089.00h0M855.92 1089.00h0M860.12 1089.00h0M864.31 1089.00h0M868.50 1089.00h0M872.70 1089.00h0M876.89 1089.00h0M881.08 1089.00h0M885.27 1089.00h0M889.47 1089.00h0M893.66 1089.00h0M897.85 1089.00h0M902.05 1089.00h0M906.24 1089.00h0M910.43 1089.00h0M914.63 1089.00h0M918.82 1089.00h0M923.01 1089.00h0M927.20 1089.00h0M931.40 1089.00h0M935.59 1089.00h0M939.78 1089.00h0M943.98 1089.00h0M948.17 1089.00h0M952.36 1089.00h0M956.56 1089.00h0M960.75 1089.00h0M964.94 1089.00h0M969.13 1089.00h0M973.33 1089.00h0M977.52 1089.00h0M981.71 1089.00h0M985.91 1089.00h0M990.10 1089.00h0"/>
<path stroke="#ff0000" stroke-width="2.5" stroke-linecap="round" fill="none" d="M570.80 958.75h0M570.80 1219.25h0M574.99 958.40h0M574.99 1219.60h0M579.19 958.06h0M579.19 1219.94h0M583.38 957.73h0M583.38 1220.27h0M587.57 957.41h0M587.57 1220.59h0M591.76 957.10h0M591.76 1220.90h0M595.96 956.81h0M595.96 1221.19h0M600.15 956.54h0M600.15 1221.46h0M604.34 956.29h0M604.34 1221.71h0M608.54 956.05h0M608.54 1221.95h0M612.73 955.84h0M612.73 1222.16h0M616.92 955.65h0M616.92 1222.35h0M621.12 955.48h0M621.12 1222.52h0M625.31 955.34h0M625.31 1222.66h0M629.50 955.22h0M629.50 1222.78h0M633.69 955.12h0M633.69 1222.88h0M637.89 955.06h0M637.89 1222.94h0M642.08 955.01h0M642.08 1222.99h0M646.27 955.00h0M646.27 1223.00h0M650.47 955.02h0M650.47 1222.98h0M654.66 955.06h0M654.66 1222.94h0M658.85 955.13h0M658.85 1222.87h0M663.05 955.23h0M663.05 1222.77h0M667.24 955.36h0M667.24 1222.64h0M671.43 955.52h0M671.43 1222.48h0M675.62 955.71h0M675.62 1222.29h0M679.82 955.93h0M679.82 1222.07h0M684.01 956.18h0M684.01 1221.82h0M688.20 956.46h0M688.20 1221.54h0M692.40 956.78h0M692.40 1221.22h0M696.59 957.12h0M696.59 1220.88h0M700.78 957.49h0M700.78 1220.51h0M704.98 957.89h0M704.98 1220.11h0M709.17 958.32h0M709.17 1219.68h0M713.36 958.79h0M713.36 1219.21h0M717.55 959.28h0M717.55 1218.72h0M721.75 959.80h0M721.75 1218.20h0M725.94 960.36h0M725.94 1217.64h0M730.13 960.95h0M730.13 1217.05h0M734.33 961.57h0M734.33 1216.43h0M738.52 962.22h0M738.52 1215.78h0M742.71 962.90h0M742.71 1215.10h0M746.91 963.61h0M746.91 1214.39h0M751.10 964.36h0M751.10 1213.64h0M755.29 965.14h0M755.29 1212.86h0M759.49 965.96h0M759.49 1212.04h0M763.68 966.81h0M763.68 1211.19h0M767.87 967.69h0M767.87 1210.31h0M772.06 968.62h0M772.06 1209.38h0M776.26 969.58h0M776.26 1208.42h0M780.45 970.58h0M780.45 1207.42h0M784.64 971.62h0M784.64 1206.38h0M788.84 972.70h0M788.84 1205.30h0M793.03 973.83h0M793.03 1204.17h0M797.22 975.00h0M797.22 1203.00h0M801.41 976.22h0M801.41 1201.78h0M805.61 977.50h0M805.61 1200.50h0M809.80 978.82h0M809.80 1199.18h0M813.99 980.20h0M813.99 1197.80h0M818.19 981.64h0M818.19 1196.36h0M822.38 983.14h0M822.38 1194.86h0M826.57 984.70h0M826.57 1193.30h0M830.77 986.34h0M830.77 1191.66h0M834.96 988.04h0M834.96 1189.96h0M839.15 989.82h0M839.15 1188.18h0M843.35 991.69h0M843.35 1186.31h0M847.54 993.64h0M847.54 1184.36h0M851.73 995.68h0M851.73 1182.32h0M855.92 997.82h0M855.92 1180.18h0M860.12 1000.07h0M860.12 1177.93h0M864.31 1002.42h0M864.31 1175.58h0M868.50 1004.89h0M868.50 1173.11h0M872.70 1007.48h0M872.70 1170.52h0M876.89 1010.20h0M876.89 1167.80h0M881.08 1013.06h0M881.08 1164.94h0M885.27 1016.06h0M885.27 1161.94h0M889.47 1019.23h0M889.47 1158.77h0M893.66 1022.55h0M893.66 1155.45h0M897.85 1026.05h0M897.85 1151.95h0M902.05 1029.76h0M902.05 1148.24h0M906.24 1034.19h0M906.24 1143.81h0M910.43 1038.76h0M910.43 1139.24h0M914.63 1044.71h0M914.63 1133.29h0M918.82 1050.66h0M918.82 1127.34h0M923.01 1057.44h0M923.01 1120.56h0M927.20 1063.53h0M927.20 1114.47h0M931.40 1070.87h0M931.40 1107.13h0M935.59 1075.99h0M935.59 1102.01h0M939.78 1081.11h0M939.78 1096.89h0M943.98 1086.23h0M943.98 1091.77h0M574.99 959.86h0M574.99 1218.14h0M579.19 960.51h0M579.19 1217.49h0M583.38 961.17h0M583.38 1216.83h0M587.57 961.81h0M587.57 1216.19h0M591.76 962.46h0M591.76 1215.54h0M595.96 963.10h0M595.96 1214.90h0M600.15 963.76h0M600.15 1214.24h0M604.34 964.42h0M604.34 1213.58h0M608.54 965.08h0M608.54 1212.92h0M612.73 965.77h0M612.73 1212.23h0M616.92 966.46h0M616.92 1211.54h0M621.12 967.18h0M621.12 1210.82h0M625.31 967.91h0M625.31 1210.09h0M629.50 968.67h0M629.50 1209.33h0M633.69 969.44h0M633.69 1208.56h0M637.89 970.24h0M637.89 1207.76h0M642.08 971.07h0M642.08 1206.93h0M646.27 971.92h0M646.27 1206.08h0M650.47 972.80h0M650.47 1205.20h0M654.66 973.71h0M654.66 1204.29h0M658.85 974.65h0M658.85 1203.35h0M663.05 975.62h0M663.05 1202.38h0M667.24 976.61h0M667.24 1201.39h0M671.43 977.64h0M671.43 1200.36h0M675.62 978.70h0M675.62 1199.30h0M679.82 979.78h0M679.82 1198.22h0M684.01 980.90h0M684.01 1197.10h0M688.20 982.04h0M688.20 1195.96h0M692.40 983.22h0M692.40 1194.78h0M696.59 984.42h0M696.59 1193.58h0M700.78 985.65h0M700.78 1192.35h0M704.98 986.90h0M704.98 1191.10h0M709.17 988.19h0M709.17 1189.81h0M713.36 989.50h0M713.36 1188.50h0M717.55 990.83h0M717.55 1187.17h0M721.75 992.19h0M721.75 1185.81h0M725.94 993.56h0M725.94 1184.44h0M730.13 994.97h0M730.13 1183.03h0M734.33 996.39h0M734.33 1181.61h0M738.52 997.83h0M738.52 1180.17h0M742.71 999.29h0M742.71 1178.71h0M746.91 1000.77h0M746.91 1177.23h0M751.10 1002.26h0M751.10 1175.74h0M755.29 1003.77h0M755.29 1174.23h0M759.49 1005.30h0M759.49 1172.70h0M763.68 1006.84h0M763.68 1171.16h0M767.87 1008.40h0M767.87 1169.60h0M772.06 1009.97h0M772.06 1168.03h0M776.26 1011.56h0M776.26 1166.44h0M780.45 1013.16h0M780.45 1164.84h0M784.64 1014.77h0M784.64 1163.23h0M788.84 1016.40h0M788.84 1161.60h0M793.03 1018.04h0M793.03 1159.96h0M797.22 1019.70h0M797.22 1158.30h0M801.41 1021.37h0M801.41 1156.63h0M805.61 1023.06h0M805.61 1154.94h0M809.80 1024.78h0M809.80 1153.22h0M813.99 1026.51h0M813.99 1151.49h0M818.19 1028.27h0M818.19 1149.73h0M822.38 1030.06h0M822.38 1147.94h0M826.57 1031.87h0M826.57 1146.13h0M830.77 1033.72h0M830.77 1144.28h0M834.96 1035.60h0M834.96 1142.40h0M839.15 1037.53h0M839.15 1140.47h0M843.35 1039.50h0M843.35 1138.50h0M847.54 1041.53h0M847.54 1136.47h0M851.73 1043.61h0M851.73 1134.39h0M855.92 1045.76h0M855.92 1132.24h0M860.12 1047.97h0M860.12 1130.03h0M864.31 1050.27h0M864.31 1127.73h0M868.50 1052.65h0M868.50 1125.35h0M872.70 1055.13h0M872.70 1122.87h0M876.89 1057.72h0M876.89 1120.28h0M881.08 1060.42h0M881.08 1117.58h0M885.27 1063.24h0M885.27 1114.76h0M889.47 1066.21h0M889.47 1111.79h0M893.66 1069.33h0M893.66 1108.67h0M897.85 1072.61h0M897.85 1105.39h0M902.05 1074.33h0M902.05 1103.67h0M906.24 1077.24h0M906.24 1100.76h0M910.43 1081.11h0M910.43 1096.89h0M914.63 1085.26h0M914.63 1092.74h0M918.82 1079.45h0M918.82 1098.55h0M923.01 1070.87h0M923.01 1107.13h0M927.20 1063.53h0M927.20 1114.47h0M931.40 1055.65h0M931.40 1122.35h0M935.59 1048.45h0M935.59 1129.55h0M939.78 1042.64h0M939.78 1135.36h0M943.98 1037.93h0M943.98 1140.07h0M948.17 1033.64h0M948.17 1144.36h0M952.36 1030.32h0M952.36 1147.68h0M956.56 1027.41h0M956.56 1150.59h0M960.75 1024.37h0M960.75 1153.63h0M964.94 1021.74h0M964.94 1156.26h0M969.13 1019.66h0M969.13 1158.34h0M973.33 1017.59h0M973.33 1160.41h0M977.52 1015.51h0M977.52 1162.49h0M981.71 1013.85h0M981.71 1164.15h0M985.91 1012.74h0M985.91 1165.26h0M990.10 1012.19h0M990.10 1165.81h0M902.05 1089.00h0M906.24 1087.00h0M906.24 1091.00h0M910.43 1087.00h0M910.43 1091.00h0M914.63 1084.50h0M914.63 1093.50h0M914.63 1086.50h0M914.63 1091.50h0M918.82 1086.80h0M918.82 1091.20h0M923.01 1085.30h0M923.01 1092.70h0M923.01 1087.30h0M923.01 1090.70h0M927.20 1085.80h0M927.20 1092.20h0M927.20 1087.80h0M927.20 1090.20h0M931.40 1085.80h0M931.40 1092.20h0M931.40 1087.80h0M931.40 1090.20h0M935.59 1085.80h0M935.59 1092.20h0M935.59 1087.80h0M935.59 1090.20h0M939.78 1086.30h0M939.78 1091.70h0M943.98 1084.80h0M943.98 1093.20h0M943.98 1086.80h0M943.98 1091.20h0M948.17 1084.50h0M948.17 1093.50h0M948.17 1086.50h0M948.17 1091.50h0M952.36 1085.40h0M952.36 1092.60h0M952.36 1087.40h0M952.36 1090.60h0M956.56 1085.40h0M956.56 1092.60h0M956.56 1087.40h0M956.56 1090.60h0M960.75 1085.40h0M960.75 1092.60h0M960.75 1087.40h0M960.75 1090.60h0M964.94 1084.40h0M964.94 1093.60h0M964.94 1086.40h0M964.94 1091.60h0M969.13 1084.40h0M969.13 1093.60h0M969.13 1086.40h0M969.13 1091.60h0M973.33 1084.60h0M973.33 1093.40h0M973.33 1086.60h0M973.33 1091.40h0M977.52 1085.20h0M977.52 1092.80h0M977.52 1087.20h0M977.52 1090.80h0M981.71 1085.20h0M981.71 1092.80h0M981.71 1087.20h0M981.71 1090.80h0M985.91 1084.50h0M985.91 1093.50h0M985.91 1086.50h0M985.91 1091.50h0M990.10 1085.50h0M990.10 1092.50h0M990.10 1087.50h0M990.10 1090.50h0"/>
<text x="570.80" y="1250.00" font-size="23" text-anchor="middle">0</text>
<text x="654.66" y="1250.00" font-size="23" text-anchor="middle">0.2</text>
<text x="738.52" y="1250.00" font-size="23" text-anchor="middle">0.4</text>
<text x="822.38" y="1250.00" font-size="23" text-anchor="middle">0.6</text>
<text x="906.24" y="1250.00" font-size="23" text-anchor="middle">0.8</text>
<text x="990.10" y="1250.00" font-size="23" text-anchor="middle">1</text>
<text x="567.80" y="1235.40" font-size="23" text-anchor="end">-1</text>
<text x="567.80" y="1166.20" font-size="23" text-anchor="end">-0.5</text>
<text x="567.80" y="1097.00" font-size="23" text-anchor="end">0</text>
<text x="567.80" y="1027.80" font-size="23" text-anchor="end">0.5</text>
<text x="567.80" y="958.60" font-size="23" text-anchor="end">1</text>
<text x="0.9" y="179.5" font-size="35">(a)</text>
<text x="0.9" y="496.2" font-size="35">(b)</text>
<text x="0.9" y="808.2" font-size="35">(c)</text>
<text x="0.9" y="1116.8" font-size="35">(d)</text>
<text font-size="35" text-anchor="middle" transform="translate(28.4 604) rotate(-90)">Re(E)</text>
<text font-size="35" text-anchor="middle" transform="translate(528.0 604.2) rotate(-90)">Im(E)</text>
<path fill="#000" transform="translate(262 1258)" d="M12.5 7.6L25.7 7.0L25.7 9.7L19.8 9.7L19.0 20.5C18.8 23 20 24 21.3 23.6C22.5 23.2 23.2 22.2 23.5 20.8L23.9 21.2C23.6 24 21.8 26.7 19.3 26.7C16.8 26.7 15.5 24.5 15.5 22.3L16.4 9.8L13.5 9.9C12.0 10.2 10.7 11.3 9.6 12.6L9.3 12.2C10.5 9.8 11.3 8.2 12.5 7.6Z"/>
<path fill="#000" transform="translate(761.6 1260.4)" d="M12.5 7.6L25.7 7.0L25.7 9.7L19.8 9.7L19.0 20.5C18.8 23 20 24 21.3 23.6C22.5 23.2 23.2 22.2 23.5 20.8L23.9 21.2C23.6 24 21.8 26.7 19.3 26.7C16.8 26.7 15.5 24.5 15.5 22.3L16.4 9.8L13.5 9.9C12.0 10.2 10.7 11.3 9.6 12.6L9.3 12.2C10.5 9.8 11.3 8.2 12.5 7.6Z"/>
</svg></body></html>
